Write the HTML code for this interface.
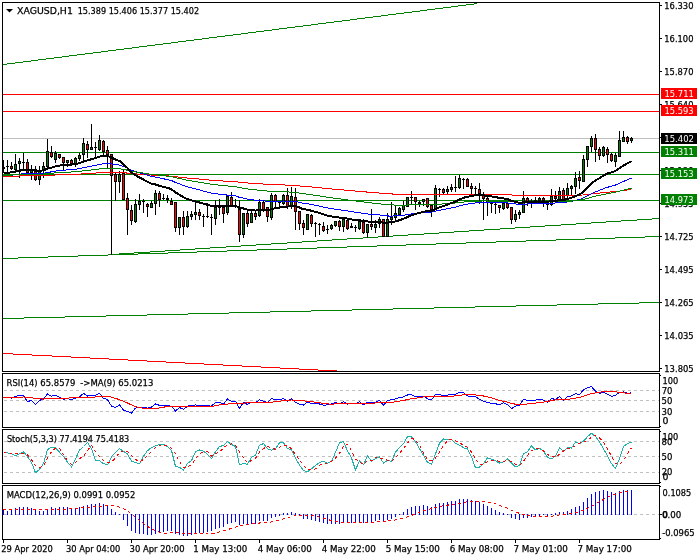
<!DOCTYPE html>
<html><head><meta charset="utf-8"><style>
html,body{margin:0;padding:0;background:#fff;overflow:hidden;}
svg{display:block;}
text{font-family:"DejaVu Sans","Liberation Sans",sans-serif;}
</style></head><body>
<svg width="700" height="560" viewBox="0 0 700 560" shape-rendering="crispEdges">
<rect width="700" height="560" fill="#fff"/>
<rect x="2" y="2" width="658" height="1" fill="#000"/>
<rect x="2" y="2" width="1" height="370" fill="#000"/>
<rect x="659" y="2" width="1" height="370" fill="#000"/>
<rect x="2" y="371" width="658" height="1" fill="#000"/>
<rect x="3" y="94" width="656" height="1" fill="#ff0000"/>
<rect x="3" y="111" width="656" height="1" fill="#ff0000"/>
<rect x="3" y="138" width="656" height="1" fill="#c0c0c0"/>
<rect x="3" y="152" width="656" height="1" fill="#008000"/>
<rect x="3" y="174" width="656" height="1" fill="#008000"/>
<rect x="3" y="200" width="656" height="1" fill="#008000"/>
<rect x="3" y="64" width="4" height="1" fill="#008000"/>
<rect x="7" y="63" width="8" height="1" fill="#008000"/>
<rect x="15" y="62" width="8" height="1" fill="#008000"/>
<rect x="23" y="61" width="8" height="1" fill="#008000"/>
<rect x="31" y="60" width="7" height="1" fill="#008000"/>
<rect x="38" y="59" width="8" height="1" fill="#008000"/>
<rect x="46" y="58" width="8" height="1" fill="#008000"/>
<rect x="54" y="57" width="8" height="1" fill="#008000"/>
<rect x="62" y="56" width="7" height="1" fill="#008000"/>
<rect x="69" y="55" width="8" height="1" fill="#008000"/>
<rect x="77" y="54" width="8" height="1" fill="#008000"/>
<rect x="85" y="53" width="8" height="1" fill="#008000"/>
<rect x="93" y="52" width="8" height="1" fill="#008000"/>
<rect x="101" y="51" width="7" height="1" fill="#008000"/>
<rect x="108" y="50" width="8" height="1" fill="#008000"/>
<rect x="116" y="49" width="8" height="1" fill="#008000"/>
<rect x="124" y="48" width="8" height="1" fill="#008000"/>
<rect x="132" y="47" width="7" height="1" fill="#008000"/>
<rect x="139" y="46" width="8" height="1" fill="#008000"/>
<rect x="147" y="45" width="8" height="1" fill="#008000"/>
<rect x="155" y="44" width="8" height="1" fill="#008000"/>
<rect x="163" y="43" width="8" height="1" fill="#008000"/>
<rect x="171" y="42" width="7" height="1" fill="#008000"/>
<rect x="178" y="41" width="8" height="1" fill="#008000"/>
<rect x="186" y="40" width="8" height="1" fill="#008000"/>
<rect x="194" y="39" width="8" height="1" fill="#008000"/>
<rect x="202" y="38" width="7" height="1" fill="#008000"/>
<rect x="209" y="37" width="8" height="1" fill="#008000"/>
<rect x="217" y="36" width="8" height="1" fill="#008000"/>
<rect x="225" y="35" width="8" height="1" fill="#008000"/>
<rect x="233" y="34" width="8" height="1" fill="#008000"/>
<rect x="241" y="33" width="7" height="1" fill="#008000"/>
<rect x="248" y="32" width="8" height="1" fill="#008000"/>
<rect x="256" y="31" width="8" height="1" fill="#008000"/>
<rect x="264" y="30" width="8" height="1" fill="#008000"/>
<rect x="272" y="29" width="7" height="1" fill="#008000"/>
<rect x="279" y="28" width="8" height="1" fill="#008000"/>
<rect x="287" y="27" width="8" height="1" fill="#008000"/>
<rect x="295" y="26" width="8" height="1" fill="#008000"/>
<rect x="303" y="25" width="8" height="1" fill="#008000"/>
<rect x="311" y="24" width="7" height="1" fill="#008000"/>
<rect x="318" y="23" width="8" height="1" fill="#008000"/>
<rect x="326" y="22" width="8" height="1" fill="#008000"/>
<rect x="334" y="21" width="8" height="1" fill="#008000"/>
<rect x="342" y="20" width="8" height="1" fill="#008000"/>
<rect x="350" y="19" width="7" height="1" fill="#008000"/>
<rect x="357" y="18" width="8" height="1" fill="#008000"/>
<rect x="365" y="17" width="8" height="1" fill="#008000"/>
<rect x="373" y="16" width="8" height="1" fill="#008000"/>
<rect x="381" y="15" width="7" height="1" fill="#008000"/>
<rect x="388" y="14" width="8" height="1" fill="#008000"/>
<rect x="396" y="13" width="8" height="1" fill="#008000"/>
<rect x="404" y="12" width="8" height="1" fill="#008000"/>
<rect x="412" y="11" width="8" height="1" fill="#008000"/>
<rect x="420" y="10" width="7" height="1" fill="#008000"/>
<rect x="427" y="9" width="8" height="1" fill="#008000"/>
<rect x="435" y="8" width="8" height="1" fill="#008000"/>
<rect x="443" y="7" width="8" height="1" fill="#008000"/>
<rect x="451" y="6" width="7" height="1" fill="#008000"/>
<rect x="458" y="5" width="8" height="1" fill="#008000"/>
<rect x="466" y="4" width="8" height="1" fill="#008000"/>
<rect x="474" y="3" width="3" height="1" fill="#008000"/>
<rect x="3" y="258" width="15" height="1" fill="#008000"/>
<rect x="18" y="257" width="30" height="1" fill="#008000"/>
<rect x="48" y="256" width="30" height="1" fill="#008000"/>
<rect x="78" y="255" width="30" height="1" fill="#008000"/>
<rect x="108" y="254" width="30" height="1" fill="#008000"/>
<rect x="138" y="253" width="30" height="1" fill="#008000"/>
<rect x="168" y="252" width="29" height="1" fill="#008000"/>
<rect x="197" y="251" width="30" height="1" fill="#008000"/>
<rect x="227" y="250" width="30" height="1" fill="#008000"/>
<rect x="257" y="249" width="30" height="1" fill="#008000"/>
<rect x="287" y="248" width="30" height="1" fill="#008000"/>
<rect x="317" y="247" width="30" height="1" fill="#008000"/>
<rect x="347" y="246" width="30" height="1" fill="#008000"/>
<rect x="377" y="245" width="29" height="1" fill="#008000"/>
<rect x="406" y="244" width="30" height="1" fill="#008000"/>
<rect x="436" y="243" width="30" height="1" fill="#008000"/>
<rect x="466" y="242" width="30" height="1" fill="#008000"/>
<rect x="496" y="241" width="30" height="1" fill="#008000"/>
<rect x="526" y="240" width="30" height="1" fill="#008000"/>
<rect x="556" y="239" width="29" height="1" fill="#008000"/>
<rect x="585" y="238" width="30" height="1" fill="#008000"/>
<rect x="615" y="237" width="30" height="1" fill="#008000"/>
<rect x="645" y="236" width="14" height="1" fill="#008000"/>
<rect x="111" y="254" width="8" height="1" fill="#008000"/>
<rect x="119" y="253" width="15" height="1" fill="#008000"/>
<rect x="134" y="252" width="16" height="1" fill="#008000"/>
<rect x="150" y="251" width="15" height="1" fill="#008000"/>
<rect x="165" y="250" width="15" height="1" fill="#008000"/>
<rect x="180" y="249" width="15" height="1" fill="#008000"/>
<rect x="195" y="248" width="15" height="1" fill="#008000"/>
<rect x="210" y="247" width="16" height="1" fill="#008000"/>
<rect x="226" y="246" width="15" height="1" fill="#008000"/>
<rect x="241" y="245" width="15" height="1" fill="#008000"/>
<rect x="256" y="244" width="15" height="1" fill="#008000"/>
<rect x="271" y="243" width="16" height="1" fill="#008000"/>
<rect x="287" y="242" width="15" height="1" fill="#008000"/>
<rect x="302" y="241" width="15" height="1" fill="#008000"/>
<rect x="317" y="240" width="15" height="1" fill="#008000"/>
<rect x="332" y="239" width="15" height="1" fill="#008000"/>
<rect x="347" y="238" width="16" height="1" fill="#008000"/>
<rect x="363" y="237" width="15" height="1" fill="#008000"/>
<rect x="378" y="236" width="15" height="1" fill="#008000"/>
<rect x="393" y="235" width="15" height="1" fill="#008000"/>
<rect x="408" y="234" width="16" height="1" fill="#008000"/>
<rect x="424" y="233" width="15" height="1" fill="#008000"/>
<rect x="439" y="232" width="15" height="1" fill="#008000"/>
<rect x="454" y="231" width="15" height="1" fill="#008000"/>
<rect x="469" y="230" width="15" height="1" fill="#008000"/>
<rect x="484" y="229" width="16" height="1" fill="#008000"/>
<rect x="500" y="228" width="15" height="1" fill="#008000"/>
<rect x="515" y="227" width="15" height="1" fill="#008000"/>
<rect x="530" y="226" width="15" height="1" fill="#008000"/>
<rect x="545" y="225" width="16" height="1" fill="#008000"/>
<rect x="561" y="224" width="15" height="1" fill="#008000"/>
<rect x="576" y="223" width="15" height="1" fill="#008000"/>
<rect x="591" y="222" width="15" height="1" fill="#008000"/>
<rect x="606" y="221" width="15" height="1" fill="#008000"/>
<rect x="621" y="220" width="16" height="1" fill="#008000"/>
<rect x="637" y="219" width="15" height="1" fill="#008000"/>
<rect x="652" y="218" width="7" height="1" fill="#008000"/>
<rect x="3" y="318" width="21" height="1" fill="#008000"/>
<rect x="24" y="317" width="41" height="1" fill="#008000"/>
<rect x="65" y="316" width="41" height="1" fill="#008000"/>
<rect x="106" y="315" width="41" height="1" fill="#008000"/>
<rect x="147" y="314" width="41" height="1" fill="#008000"/>
<rect x="188" y="313" width="41" height="1" fill="#008000"/>
<rect x="229" y="312" width="41" height="1" fill="#008000"/>
<rect x="270" y="311" width="41" height="1" fill="#008000"/>
<rect x="311" y="310" width="41" height="1" fill="#008000"/>
<rect x="352" y="309" width="41" height="1" fill="#008000"/>
<rect x="393" y="308" width="41" height="1" fill="#008000"/>
<rect x="434" y="307" width="41" height="1" fill="#008000"/>
<rect x="475" y="306" width="41" height="1" fill="#008000"/>
<rect x="516" y="305" width="41" height="1" fill="#008000"/>
<rect x="557" y="304" width="41" height="1" fill="#008000"/>
<rect x="598" y="303" width="41" height="1" fill="#008000"/>
<rect x="639" y="302" width="20" height="1" fill="#008000"/>
<rect x="3" y="353" width="10" height="1" fill="#ff0000"/>
<rect x="13" y="354" width="19" height="1" fill="#ff0000"/>
<rect x="32" y="355" width="20" height="1" fill="#ff0000"/>
<rect x="52" y="356" width="19" height="1" fill="#ff0000"/>
<rect x="71" y="357" width="19" height="1" fill="#ff0000"/>
<rect x="90" y="358" width="19" height="1" fill="#ff0000"/>
<rect x="109" y="359" width="19" height="1" fill="#ff0000"/>
<rect x="128" y="360" width="19" height="1" fill="#ff0000"/>
<rect x="147" y="361" width="19" height="1" fill="#ff0000"/>
<rect x="166" y="362" width="19" height="1" fill="#ff0000"/>
<rect x="185" y="363" width="19" height="1" fill="#ff0000"/>
<rect x="204" y="364" width="19" height="1" fill="#ff0000"/>
<rect x="223" y="365" width="19" height="1" fill="#ff0000"/>
<rect x="242" y="366" width="19" height="1" fill="#ff0000"/>
<rect x="261" y="367" width="19" height="1" fill="#ff0000"/>
<rect x="280" y="368" width="19" height="1" fill="#ff0000"/>
<rect x="299" y="369" width="19" height="1" fill="#ff0000"/>
<rect x="318" y="370" width="19" height="1" fill="#ff0000"/>
<rect x="3" y="160" width="1" height="12" fill="#000"/>
<rect x="2" y="167" width="3" height="2" fill="#000"/>
<rect x="7" y="160" width="1" height="12" fill="#000"/>
<rect x="6" y="166" width="3" height="1" fill="#000"/>
<rect x="11" y="162" width="1" height="8" fill="#000"/>
<rect x="10" y="166" width="3" height="3" fill="#000"/>
<rect x="11" y="167" width="1" height="1" fill="#ff0000"/>
<rect x="15" y="154" width="1" height="19" fill="#000"/>
<rect x="14" y="164" width="3" height="6" fill="#000"/>
<rect x="15" y="165" width="1" height="4" fill="#008000"/>
<rect x="19" y="158" width="1" height="20" fill="#000"/>
<rect x="18" y="161" width="3" height="3" fill="#000"/>
<rect x="19" y="162" width="1" height="1" fill="#008000"/>
<rect x="23" y="153" width="1" height="17" fill="#000"/>
<rect x="22" y="162" width="3" height="1" fill="#000"/>
<rect x="27" y="159" width="1" height="14" fill="#000"/>
<rect x="26" y="162" width="3" height="11" fill="#000"/>
<rect x="27" y="163" width="1" height="9" fill="#ff0000"/>
<rect x="31" y="165" width="1" height="15" fill="#000"/>
<rect x="30" y="170" width="3" height="3" fill="#000"/>
<rect x="31" y="171" width="1" height="1" fill="#008000"/>
<rect x="35" y="166" width="1" height="15" fill="#000"/>
<rect x="34" y="169" width="3" height="11" fill="#000"/>
<rect x="35" y="170" width="1" height="9" fill="#ff0000"/>
<rect x="39" y="166" width="1" height="19" fill="#000"/>
<rect x="38" y="170" width="3" height="10" fill="#000"/>
<rect x="39" y="171" width="1" height="8" fill="#008000"/>
<rect x="43" y="162" width="1" height="16" fill="#000"/>
<rect x="42" y="166" width="3" height="4" fill="#000"/>
<rect x="43" y="167" width="1" height="2" fill="#008000"/>
<rect x="47" y="139" width="1" height="29" fill="#000"/>
<rect x="46" y="151" width="3" height="16" fill="#000"/>
<rect x="47" y="152" width="1" height="14" fill="#008000"/>
<rect x="51" y="146" width="1" height="12" fill="#000"/>
<rect x="50" y="152" width="3" height="5" fill="#000"/>
<rect x="51" y="153" width="1" height="3" fill="#ff0000"/>
<rect x="55" y="151" width="1" height="12" fill="#000"/>
<rect x="54" y="153" width="3" height="7" fill="#000"/>
<rect x="55" y="154" width="1" height="5" fill="#008000"/>
<rect x="59" y="154" width="1" height="5" fill="#000"/>
<rect x="58" y="154" width="3" height="4" fill="#000"/>
<rect x="59" y="155" width="1" height="2" fill="#ff0000"/>
<rect x="63" y="157" width="1" height="13" fill="#000"/>
<rect x="62" y="157" width="3" height="6" fill="#000"/>
<rect x="63" y="158" width="1" height="4" fill="#ff0000"/>
<rect x="67" y="160" width="1" height="7" fill="#000"/>
<rect x="66" y="160" width="3" height="3" fill="#000"/>
<rect x="67" y="161" width="1" height="1" fill="#008000"/>
<rect x="71" y="159" width="1" height="5" fill="#000"/>
<rect x="70" y="160" width="3" height="4" fill="#000"/>
<rect x="71" y="161" width="1" height="2" fill="#ff0000"/>
<rect x="75" y="157" width="1" height="10" fill="#000"/>
<rect x="74" y="158" width="3" height="6" fill="#000"/>
<rect x="75" y="159" width="1" height="4" fill="#008000"/>
<rect x="79" y="153" width="1" height="8" fill="#000"/>
<rect x="78" y="155" width="3" height="4" fill="#000"/>
<rect x="79" y="156" width="1" height="2" fill="#008000"/>
<rect x="83" y="138" width="1" height="23" fill="#000"/>
<rect x="82" y="143" width="3" height="12" fill="#000"/>
<rect x="83" y="144" width="1" height="10" fill="#008000"/>
<rect x="87" y="141" width="1" height="17" fill="#000"/>
<rect x="86" y="144" width="3" height="6" fill="#000"/>
<rect x="87" y="145" width="1" height="4" fill="#ff0000"/>
<rect x="91" y="124" width="1" height="26" fill="#000"/>
<rect x="90" y="147" width="3" height="3" fill="#000"/>
<rect x="91" y="148" width="1" height="1" fill="#008000"/>
<rect x="95" y="142" width="1" height="16" fill="#000"/>
<rect x="94" y="147" width="3" height="1" fill="#000"/>
<rect x="99" y="135" width="1" height="16" fill="#000"/>
<rect x="98" y="140" width="3" height="10" fill="#000"/>
<rect x="99" y="141" width="1" height="8" fill="#008000"/>
<rect x="103" y="140" width="1" height="16" fill="#000"/>
<rect x="102" y="141" width="3" height="11" fill="#000"/>
<rect x="103" y="142" width="1" height="9" fill="#ff0000"/>
<rect x="107" y="146" width="1" height="22" fill="#000"/>
<rect x="106" y="150" width="3" height="5" fill="#000"/>
<rect x="107" y="151" width="1" height="3" fill="#ff0000"/>
<rect x="111" y="154" width="1" height="101" fill="#000"/>
<rect x="110" y="154" width="3" height="22" fill="#000"/>
<rect x="111" y="155" width="1" height="20" fill="#ff0000"/>
<rect x="115" y="173" width="1" height="28" fill="#000"/>
<rect x="114" y="174" width="3" height="8" fill="#000"/>
<rect x="115" y="175" width="1" height="6" fill="#ff0000"/>
<rect x="119" y="171" width="1" height="22" fill="#000"/>
<rect x="118" y="174" width="3" height="8" fill="#000"/>
<rect x="119" y="175" width="1" height="6" fill="#008000"/>
<rect x="123" y="170" width="1" height="30" fill="#000"/>
<rect x="122" y="173" width="3" height="27" fill="#000"/>
<rect x="123" y="174" width="1" height="25" fill="#ff0000"/>
<rect x="127" y="193" width="1" height="42" fill="#000"/>
<rect x="126" y="198" width="3" height="12" fill="#000"/>
<rect x="127" y="199" width="1" height="10" fill="#ff0000"/>
<rect x="131" y="205" width="1" height="20" fill="#000"/>
<rect x="130" y="210" width="3" height="11" fill="#000"/>
<rect x="131" y="211" width="1" height="9" fill="#ff0000"/>
<rect x="135" y="199" width="1" height="24" fill="#000"/>
<rect x="134" y="204" width="3" height="18" fill="#000"/>
<rect x="135" y="205" width="1" height="16" fill="#008000"/>
<rect x="139" y="194" width="1" height="16" fill="#000"/>
<rect x="138" y="201" width="3" height="4" fill="#000"/>
<rect x="139" y="202" width="1" height="2" fill="#008000"/>
<rect x="143" y="199" width="1" height="14" fill="#000"/>
<rect x="142" y="201" width="3" height="1" fill="#000"/>
<rect x="147" y="203" width="1" height="14" fill="#000"/>
<rect x="146" y="204" width="3" height="3" fill="#000"/>
<rect x="147" y="205" width="1" height="1" fill="#ff0000"/>
<rect x="151" y="201" width="1" height="7" fill="#000"/>
<rect x="150" y="203" width="3" height="5" fill="#000"/>
<rect x="151" y="204" width="1" height="3" fill="#008000"/>
<rect x="155" y="190" width="1" height="25" fill="#000"/>
<rect x="154" y="193" width="3" height="11" fill="#000"/>
<rect x="155" y="194" width="1" height="9" fill="#008000"/>
<rect x="159" y="191" width="1" height="16" fill="#000"/>
<rect x="158" y="193" width="3" height="7" fill="#000"/>
<rect x="159" y="194" width="1" height="5" fill="#ff0000"/>
<rect x="163" y="194" width="1" height="6" fill="#000"/>
<rect x="162" y="198" width="3" height="1" fill="#000"/>
<rect x="167" y="195" width="1" height="8" fill="#000"/>
<rect x="166" y="198" width="3" height="2" fill="#000"/>
<rect x="171" y="198" width="1" height="7" fill="#000"/>
<rect x="170" y="201" width="3" height="4" fill="#000"/>
<rect x="171" y="202" width="1" height="2" fill="#ff0000"/>
<rect x="175" y="202" width="1" height="30" fill="#000"/>
<rect x="174" y="202" width="3" height="26" fill="#000"/>
<rect x="175" y="203" width="1" height="24" fill="#ff0000"/>
<rect x="179" y="217" width="1" height="18" fill="#000"/>
<rect x="178" y="217" width="3" height="11" fill="#000"/>
<rect x="179" y="218" width="1" height="9" fill="#008000"/>
<rect x="183" y="211" width="1" height="24" fill="#000"/>
<rect x="182" y="217" width="3" height="10" fill="#000"/>
<rect x="183" y="218" width="1" height="8" fill="#ff0000"/>
<rect x="187" y="211" width="1" height="17" fill="#000"/>
<rect x="186" y="216" width="3" height="11" fill="#000"/>
<rect x="187" y="217" width="1" height="9" fill="#008000"/>
<rect x="191" y="211" width="1" height="9" fill="#000"/>
<rect x="190" y="214" width="3" height="3" fill="#000"/>
<rect x="191" y="215" width="1" height="1" fill="#008000"/>
<rect x="195" y="202" width="1" height="18" fill="#000"/>
<rect x="194" y="212" width="3" height="3" fill="#000"/>
<rect x="195" y="213" width="1" height="1" fill="#008000"/>
<rect x="199" y="209" width="1" height="11" fill="#000"/>
<rect x="198" y="212" width="3" height="4" fill="#000"/>
<rect x="199" y="213" width="1" height="2" fill="#ff0000"/>
<rect x="203" y="214" width="1" height="13" fill="#000"/>
<rect x="202" y="216" width="3" height="1" fill="#000"/>
<rect x="207" y="203" width="1" height="15" fill="#000"/>
<rect x="206" y="216" width="3" height="1" fill="#000"/>
<rect x="211" y="214" width="1" height="21" fill="#000"/>
<rect x="210" y="217" width="3" height="1" fill="#000"/>
<rect x="215" y="200" width="1" height="25" fill="#000"/>
<rect x="214" y="207" width="3" height="12" fill="#000"/>
<rect x="215" y="208" width="1" height="10" fill="#008000"/>
<rect x="219" y="199" width="1" height="16" fill="#000"/>
<rect x="218" y="207" width="3" height="1" fill="#000"/>
<rect x="223" y="205" width="1" height="18" fill="#000"/>
<rect x="222" y="207" width="3" height="7" fill="#000"/>
<rect x="223" y="208" width="1" height="5" fill="#ff0000"/>
<rect x="227" y="196" width="1" height="19" fill="#000"/>
<rect x="226" y="196" width="3" height="17" fill="#000"/>
<rect x="227" y="197" width="1" height="15" fill="#008000"/>
<rect x="231" y="192" width="1" height="15" fill="#000"/>
<rect x="230" y="197" width="3" height="9" fill="#000"/>
<rect x="231" y="198" width="1" height="7" fill="#ff0000"/>
<rect x="235" y="199" width="1" height="9" fill="#000"/>
<rect x="234" y="205" width="3" height="1" fill="#000"/>
<rect x="239" y="200" width="1" height="42" fill="#000"/>
<rect x="238" y="209" width="3" height="26" fill="#000"/>
<rect x="239" y="210" width="1" height="24" fill="#ff0000"/>
<rect x="243" y="213" width="1" height="25" fill="#000"/>
<rect x="242" y="213" width="3" height="22" fill="#000"/>
<rect x="243" y="214" width="1" height="20" fill="#008000"/>
<rect x="247" y="211" width="1" height="16" fill="#000"/>
<rect x="246" y="213" width="3" height="11" fill="#000"/>
<rect x="247" y="214" width="1" height="9" fill="#ff0000"/>
<rect x="251" y="211" width="1" height="12" fill="#000"/>
<rect x="250" y="213" width="3" height="10" fill="#000"/>
<rect x="251" y="214" width="1" height="8" fill="#008000"/>
<rect x="255" y="212" width="1" height="8" fill="#000"/>
<rect x="254" y="213" width="3" height="4" fill="#000"/>
<rect x="255" y="214" width="1" height="2" fill="#ff0000"/>
<rect x="259" y="199" width="1" height="18" fill="#000"/>
<rect x="258" y="202" width="3" height="14" fill="#000"/>
<rect x="259" y="203" width="1" height="12" fill="#008000"/>
<rect x="263" y="201" width="1" height="11" fill="#000"/>
<rect x="262" y="202" width="3" height="8" fill="#000"/>
<rect x="263" y="203" width="1" height="6" fill="#ff0000"/>
<rect x="267" y="207" width="1" height="15" fill="#000"/>
<rect x="266" y="207" width="3" height="10" fill="#000"/>
<rect x="267" y="208" width="1" height="8" fill="#ff0000"/>
<rect x="271" y="193" width="1" height="27" fill="#000"/>
<rect x="270" y="195" width="3" height="23" fill="#000"/>
<rect x="271" y="196" width="1" height="21" fill="#008000"/>
<rect x="275" y="194" width="1" height="13" fill="#000"/>
<rect x="274" y="195" width="3" height="7" fill="#000"/>
<rect x="275" y="196" width="1" height="5" fill="#ff0000"/>
<rect x="279" y="201" width="1" height="7" fill="#000"/>
<rect x="278" y="202" width="3" height="1" fill="#000"/>
<rect x="283" y="194" width="1" height="11" fill="#000"/>
<rect x="282" y="195" width="3" height="9" fill="#000"/>
<rect x="283" y="196" width="1" height="7" fill="#008000"/>
<rect x="287" y="188" width="1" height="21" fill="#000"/>
<rect x="286" y="195" width="3" height="12" fill="#000"/>
<rect x="287" y="196" width="1" height="10" fill="#ff0000"/>
<rect x="291" y="187" width="1" height="22" fill="#000"/>
<rect x="290" y="196" width="3" height="11" fill="#000"/>
<rect x="291" y="197" width="1" height="9" fill="#008000"/>
<rect x="295" y="188" width="1" height="42" fill="#000"/>
<rect x="294" y="197" width="3" height="15" fill="#000"/>
<rect x="295" y="198" width="1" height="13" fill="#ff0000"/>
<rect x="299" y="211" width="1" height="19" fill="#000"/>
<rect x="298" y="211" width="3" height="13" fill="#000"/>
<rect x="299" y="212" width="1" height="11" fill="#ff0000"/>
<rect x="303" y="220" width="1" height="15" fill="#000"/>
<rect x="302" y="223" width="3" height="5" fill="#000"/>
<rect x="303" y="224" width="1" height="3" fill="#ff0000"/>
<rect x="307" y="214" width="1" height="16" fill="#000"/>
<rect x="306" y="214" width="3" height="16" fill="#000"/>
<rect x="307" y="215" width="1" height="14" fill="#008000"/>
<rect x="311" y="214" width="1" height="13" fill="#000"/>
<rect x="310" y="215" width="3" height="9" fill="#000"/>
<rect x="311" y="216" width="1" height="7" fill="#ff0000"/>
<rect x="315" y="222" width="1" height="15" fill="#000"/>
<rect x="314" y="223" width="3" height="1" fill="#000"/>
<rect x="319" y="223" width="1" height="12" fill="#000"/>
<rect x="318" y="224" width="3" height="1" fill="#000"/>
<rect x="323" y="222" width="1" height="10" fill="#000"/>
<rect x="322" y="226" width="3" height="5" fill="#000"/>
<rect x="323" y="227" width="1" height="3" fill="#ff0000"/>
<rect x="327" y="225" width="1" height="9" fill="#000"/>
<rect x="326" y="229" width="3" height="1" fill="#000"/>
<rect x="331" y="224" width="1" height="6" fill="#000"/>
<rect x="330" y="225" width="3" height="4" fill="#000"/>
<rect x="331" y="226" width="1" height="2" fill="#008000"/>
<rect x="335" y="221" width="1" height="6" fill="#000"/>
<rect x="334" y="221" width="3" height="5" fill="#000"/>
<rect x="335" y="222" width="1" height="3" fill="#008000"/>
<rect x="339" y="220" width="1" height="11" fill="#000"/>
<rect x="338" y="221" width="3" height="6" fill="#000"/>
<rect x="339" y="222" width="1" height="4" fill="#ff0000"/>
<rect x="343" y="219" width="1" height="13" fill="#000"/>
<rect x="342" y="219" width="3" height="8" fill="#000"/>
<rect x="343" y="220" width="1" height="6" fill="#008000"/>
<rect x="347" y="219" width="1" height="11" fill="#000"/>
<rect x="346" y="220" width="3" height="9" fill="#000"/>
<rect x="347" y="221" width="1" height="7" fill="#ff0000"/>
<rect x="351" y="223" width="1" height="5" fill="#000"/>
<rect x="350" y="226" width="3" height="2" fill="#000"/>
<rect x="355" y="225" width="1" height="7" fill="#000"/>
<rect x="354" y="227" width="3" height="1" fill="#000"/>
<rect x="359" y="220" width="1" height="10" fill="#000"/>
<rect x="358" y="221" width="3" height="8" fill="#000"/>
<rect x="359" y="222" width="1" height="6" fill="#008000"/>
<rect x="363" y="219" width="1" height="15" fill="#000"/>
<rect x="362" y="222" width="3" height="11" fill="#000"/>
<rect x="363" y="223" width="1" height="9" fill="#ff0000"/>
<rect x="367" y="224" width="1" height="14" fill="#000"/>
<rect x="366" y="224" width="3" height="9" fill="#000"/>
<rect x="367" y="225" width="1" height="7" fill="#008000"/>
<rect x="371" y="209" width="1" height="21" fill="#000"/>
<rect x="370" y="224" width="3" height="3" fill="#000"/>
<rect x="371" y="225" width="1" height="1" fill="#ff0000"/>
<rect x="375" y="220" width="1" height="13" fill="#000"/>
<rect x="374" y="224" width="3" height="4" fill="#000"/>
<rect x="375" y="225" width="1" height="2" fill="#008000"/>
<rect x="379" y="217" width="1" height="11" fill="#000"/>
<rect x="378" y="219" width="3" height="5" fill="#000"/>
<rect x="379" y="220" width="1" height="3" fill="#008000"/>
<rect x="383" y="219" width="1" height="18" fill="#000"/>
<rect x="382" y="219" width="3" height="18" fill="#000"/>
<rect x="383" y="220" width="1" height="16" fill="#ff0000"/>
<rect x="387" y="213" width="1" height="24" fill="#000"/>
<rect x="386" y="219" width="3" height="18" fill="#000"/>
<rect x="387" y="220" width="1" height="16" fill="#008000"/>
<rect x="391" y="202" width="1" height="23" fill="#000"/>
<rect x="390" y="217" width="3" height="3" fill="#000"/>
<rect x="391" y="218" width="1" height="1" fill="#008000"/>
<rect x="395" y="206" width="1" height="15" fill="#000"/>
<rect x="394" y="213" width="3" height="5" fill="#000"/>
<rect x="395" y="214" width="1" height="3" fill="#008000"/>
<rect x="399" y="207" width="1" height="9" fill="#000"/>
<rect x="398" y="208" width="3" height="7" fill="#000"/>
<rect x="399" y="209" width="1" height="5" fill="#008000"/>
<rect x="403" y="201" width="1" height="11" fill="#000"/>
<rect x="402" y="205" width="3" height="5" fill="#000"/>
<rect x="403" y="206" width="1" height="3" fill="#008000"/>
<rect x="407" y="197" width="1" height="10" fill="#000"/>
<rect x="406" y="197" width="3" height="10" fill="#000"/>
<rect x="407" y="198" width="1" height="8" fill="#008000"/>
<rect x="411" y="191" width="1" height="13" fill="#000"/>
<rect x="410" y="197" width="3" height="1" fill="#000"/>
<rect x="415" y="197" width="1" height="13" fill="#000"/>
<rect x="414" y="197" width="3" height="5" fill="#000"/>
<rect x="415" y="198" width="1" height="3" fill="#ff0000"/>
<rect x="419" y="201" width="1" height="6" fill="#000"/>
<rect x="418" y="202" width="3" height="2" fill="#000"/>
<rect x="423" y="199" width="1" height="7" fill="#000"/>
<rect x="422" y="199" width="3" height="3" fill="#000"/>
<rect x="423" y="200" width="1" height="1" fill="#008000"/>
<rect x="427" y="198" width="1" height="10" fill="#000"/>
<rect x="426" y="198" width="3" height="9" fill="#000"/>
<rect x="427" y="199" width="1" height="7" fill="#ff0000"/>
<rect x="431" y="204" width="1" height="13" fill="#000"/>
<rect x="430" y="205" width="3" height="5" fill="#000"/>
<rect x="431" y="206" width="1" height="3" fill="#ff0000"/>
<rect x="435" y="185" width="1" height="25" fill="#000"/>
<rect x="434" y="188" width="3" height="22" fill="#000"/>
<rect x="435" y="189" width="1" height="20" fill="#008000"/>
<rect x="439" y="188" width="1" height="9" fill="#000"/>
<rect x="438" y="189" width="3" height="1" fill="#000"/>
<rect x="443" y="188" width="1" height="6" fill="#000"/>
<rect x="442" y="189" width="3" height="4" fill="#000"/>
<rect x="443" y="190" width="1" height="2" fill="#ff0000"/>
<rect x="447" y="186" width="1" height="8" fill="#000"/>
<rect x="446" y="189" width="3" height="3" fill="#000"/>
<rect x="447" y="190" width="1" height="1" fill="#008000"/>
<rect x="451" y="184" width="1" height="8" fill="#000"/>
<rect x="450" y="187" width="3" height="3" fill="#000"/>
<rect x="451" y="188" width="1" height="1" fill="#008000"/>
<rect x="455" y="176" width="1" height="16" fill="#000"/>
<rect x="454" y="187" width="3" height="1" fill="#000"/>
<rect x="459" y="175" width="1" height="14" fill="#000"/>
<rect x="458" y="178" width="3" height="10" fill="#000"/>
<rect x="459" y="179" width="1" height="8" fill="#008000"/>
<rect x="463" y="178" width="1" height="11" fill="#000"/>
<rect x="462" y="179" width="3" height="1" fill="#000"/>
<rect x="467" y="178" width="1" height="9" fill="#000"/>
<rect x="466" y="179" width="3" height="8" fill="#000"/>
<rect x="467" y="180" width="1" height="6" fill="#ff0000"/>
<rect x="471" y="183" width="1" height="11" fill="#000"/>
<rect x="470" y="186" width="3" height="3" fill="#000"/>
<rect x="471" y="187" width="1" height="1" fill="#ff0000"/>
<rect x="475" y="186" width="1" height="8" fill="#000"/>
<rect x="474" y="188" width="3" height="1" fill="#000"/>
<rect x="479" y="183" width="1" height="21" fill="#000"/>
<rect x="478" y="189" width="3" height="5" fill="#000"/>
<rect x="479" y="190" width="1" height="3" fill="#ff0000"/>
<rect x="483" y="192" width="1" height="28" fill="#000"/>
<rect x="482" y="195" width="3" height="4" fill="#000"/>
<rect x="483" y="196" width="1" height="2" fill="#ff0000"/>
<rect x="487" y="197" width="1" height="19" fill="#000"/>
<rect x="486" y="198" width="3" height="4" fill="#000"/>
<rect x="487" y="199" width="1" height="2" fill="#ff0000"/>
<rect x="491" y="202" width="1" height="11" fill="#000"/>
<rect x="490" y="203" width="3" height="1" fill="#000"/>
<rect x="495" y="203" width="1" height="11" fill="#000"/>
<rect x="494" y="204" width="3" height="1" fill="#000"/>
<rect x="499" y="205" width="1" height="8" fill="#000"/>
<rect x="498" y="205" width="3" height="3" fill="#000"/>
<rect x="499" y="206" width="1" height="1" fill="#ff0000"/>
<rect x="503" y="202" width="1" height="8" fill="#000"/>
<rect x="502" y="203" width="3" height="6" fill="#000"/>
<rect x="503" y="204" width="1" height="4" fill="#008000"/>
<rect x="507" y="202" width="1" height="7" fill="#000"/>
<rect x="506" y="203" width="3" height="5" fill="#000"/>
<rect x="507" y="204" width="1" height="3" fill="#ff0000"/>
<rect x="511" y="207" width="1" height="17" fill="#000"/>
<rect x="510" y="207" width="3" height="13" fill="#000"/>
<rect x="511" y="208" width="1" height="11" fill="#ff0000"/>
<rect x="515" y="210" width="1" height="12" fill="#000"/>
<rect x="514" y="214" width="3" height="6" fill="#000"/>
<rect x="515" y="215" width="1" height="4" fill="#008000"/>
<rect x="519" y="210" width="1" height="9" fill="#000"/>
<rect x="518" y="212" width="3" height="3" fill="#000"/>
<rect x="519" y="213" width="1" height="1" fill="#008000"/>
<rect x="523" y="191" width="1" height="22" fill="#000"/>
<rect x="522" y="198" width="3" height="15" fill="#000"/>
<rect x="523" y="199" width="1" height="13" fill="#008000"/>
<rect x="527" y="197" width="1" height="9" fill="#000"/>
<rect x="526" y="198" width="3" height="4" fill="#000"/>
<rect x="527" y="199" width="1" height="2" fill="#ff0000"/>
<rect x="531" y="199" width="1" height="9" fill="#000"/>
<rect x="530" y="201" width="3" height="3" fill="#000"/>
<rect x="531" y="202" width="1" height="1" fill="#008000"/>
<rect x="535" y="197" width="1" height="5" fill="#000"/>
<rect x="534" y="200" width="3" height="1" fill="#000"/>
<rect x="539" y="197" width="1" height="5" fill="#000"/>
<rect x="538" y="198" width="3" height="3" fill="#000"/>
<rect x="539" y="199" width="1" height="1" fill="#008000"/>
<rect x="543" y="197" width="1" height="10" fill="#000"/>
<rect x="542" y="198" width="3" height="3" fill="#000"/>
<rect x="543" y="199" width="1" height="1" fill="#ff0000"/>
<rect x="547" y="202" width="1" height="8" fill="#000"/>
<rect x="546" y="204" width="3" height="1" fill="#000"/>
<rect x="551" y="189" width="1" height="17" fill="#000"/>
<rect x="550" y="196" width="3" height="9" fill="#000"/>
<rect x="551" y="197" width="1" height="7" fill="#008000"/>
<rect x="555" y="191" width="1" height="10" fill="#000"/>
<rect x="554" y="196" width="3" height="3" fill="#000"/>
<rect x="555" y="197" width="1" height="1" fill="#ff0000"/>
<rect x="559" y="187" width="1" height="14" fill="#000"/>
<rect x="558" y="191" width="3" height="9" fill="#000"/>
<rect x="559" y="192" width="1" height="7" fill="#008000"/>
<rect x="563" y="188" width="1" height="13" fill="#000"/>
<rect x="562" y="190" width="3" height="10" fill="#000"/>
<rect x="563" y="191" width="1" height="8" fill="#ff0000"/>
<rect x="567" y="183" width="1" height="15" fill="#000"/>
<rect x="566" y="188" width="3" height="8" fill="#000"/>
<rect x="567" y="189" width="1" height="6" fill="#008000"/>
<rect x="571" y="185" width="1" height="11" fill="#000"/>
<rect x="570" y="186" width="3" height="3" fill="#000"/>
<rect x="571" y="187" width="1" height="1" fill="#008000"/>
<rect x="575" y="172" width="1" height="22" fill="#000"/>
<rect x="574" y="178" width="3" height="9" fill="#000"/>
<rect x="575" y="179" width="1" height="7" fill="#008000"/>
<rect x="579" y="171" width="1" height="18" fill="#000"/>
<rect x="578" y="177" width="3" height="4" fill="#000"/>
<rect x="579" y="178" width="1" height="2" fill="#ff0000"/>
<rect x="583" y="155" width="1" height="27" fill="#000"/>
<rect x="582" y="159" width="3" height="23" fill="#000"/>
<rect x="583" y="160" width="1" height="21" fill="#008000"/>
<rect x="587" y="146" width="1" height="21" fill="#000"/>
<rect x="586" y="146" width="3" height="14" fill="#000"/>
<rect x="587" y="147" width="1" height="12" fill="#008000"/>
<rect x="591" y="136" width="1" height="16" fill="#000"/>
<rect x="590" y="138" width="3" height="9" fill="#000"/>
<rect x="591" y="139" width="1" height="7" fill="#008000"/>
<rect x="595" y="134" width="1" height="28" fill="#000"/>
<rect x="594" y="138" width="3" height="12" fill="#000"/>
<rect x="595" y="139" width="1" height="10" fill="#ff0000"/>
<rect x="599" y="147" width="1" height="13" fill="#000"/>
<rect x="598" y="149" width="3" height="7" fill="#000"/>
<rect x="599" y="150" width="1" height="5" fill="#ff0000"/>
<rect x="603" y="146" width="1" height="11" fill="#000"/>
<rect x="602" y="147" width="3" height="9" fill="#000"/>
<rect x="603" y="148" width="1" height="7" fill="#008000"/>
<rect x="607" y="147" width="1" height="16" fill="#000"/>
<rect x="606" y="149" width="3" height="6" fill="#000"/>
<rect x="607" y="150" width="1" height="4" fill="#ff0000"/>
<rect x="611" y="153" width="1" height="9" fill="#000"/>
<rect x="610" y="154" width="3" height="7" fill="#000"/>
<rect x="611" y="155" width="1" height="5" fill="#ff0000"/>
<rect x="615" y="153" width="1" height="14" fill="#000"/>
<rect x="614" y="155" width="3" height="7" fill="#000"/>
<rect x="615" y="156" width="1" height="5" fill="#008000"/>
<rect x="619" y="131" width="1" height="26" fill="#000"/>
<rect x="618" y="140" width="3" height="17" fill="#000"/>
<rect x="619" y="141" width="1" height="15" fill="#008000"/>
<rect x="623" y="131" width="1" height="11" fill="#000"/>
<rect x="622" y="137" width="3" height="5" fill="#000"/>
<rect x="623" y="138" width="1" height="3" fill="#008000"/>
<rect x="627" y="136" width="1" height="8" fill="#000"/>
<rect x="626" y="137" width="3" height="5" fill="#000"/>
<rect x="627" y="138" width="1" height="3" fill="#ff0000"/>
<rect x="631" y="137" width="1" height="6" fill="#000"/>
<rect x="630" y="138" width="3" height="3" fill="#000"/>
<rect x="631" y="139" width="1" height="1" fill="#008000"/>
<polyline points="3.50,176.42 7.50,176.32 11.50,176.24 15.50,176.13 19.50,175.98 23.50,175.84 27.50,175.81 31.50,175.76 35.50,175.80 39.50,175.74 43.50,175.65 47.50,175.41 51.50,175.22 55.50,175.00 59.50,174.83 63.50,174.70 67.50,174.56 71.50,174.45 75.50,174.29 79.50,174.10 83.50,173.80 87.50,173.55 91.50,173.29 95.50,173.04 99.50,172.71 103.50,172.50 107.50,172.32 111.50,172.35 115.50,172.44 119.50,172.46 123.50,172.73 127.50,173.10 131.50,173.57 135.50,173.88 139.50,174.16 143.50,174.43 147.50,174.75 151.50,175.04 155.50,175.23 159.50,175.47 163.50,175.70 167.50,175.93 171.50,176.21 175.50,176.73 179.50,177.13 183.50,177.63 187.50,178.02 191.50,178.38 195.50,178.72 199.50,179.09 203.50,179.46 207.50,179.83 211.50,180.21 215.50,180.48 219.50,180.75 223.50,181.08 227.50,181.24 231.50,181.48 235.50,181.72 239.50,182.25 243.50,182.56 247.50,182.97 251.50,183.27 255.50,183.61 259.50,183.79 263.50,184.05 267.50,184.38 271.50,184.49 275.50,184.66 279.50,184.84 283.50,184.94 287.50,185.16 291.50,185.27 295.50,185.53 299.50,185.91 303.50,186.33 307.50,186.61 311.50,186.98 315.50,187.35 319.50,187.72 323.50,188.14 327.50,188.56 331.50,188.93 335.50,189.25 339.50,189.63 343.50,189.92 347.50,190.31 351.50,190.68 355.50,191.05 359.50,191.35 363.50,191.77 367.50,192.09 371.50,192.44 375.50,192.76 379.50,193.03 383.50,193.46 387.50,193.72 391.50,193.96 395.50,194.15 399.50,194.30 403.50,194.41 407.50,194.44 411.50,194.47 415.50,194.54 419.50,194.62 423.50,194.67 427.50,194.79 431.50,194.94 435.50,194.87 439.50,194.82 443.50,194.79 447.50,194.74 451.50,194.67 455.50,194.60 459.50,194.44 463.50,194.29 467.50,194.21 471.50,194.15 475.50,194.10 479.50,194.09 483.50,194.13 487.50,194.21 491.50,194.30 495.50,194.40 499.50,194.53 503.50,194.62 507.50,194.75 511.50,195.00 515.50,195.19 519.50,195.37 523.50,195.40 527.50,195.46 531.50,195.52 535.50,195.57 539.50,195.60 543.50,195.65 547.50,195.74 551.50,195.74 555.50,195.77 559.50,195.73 563.50,195.77 567.50,195.69 571.50,195.60 575.50,195.43 579.50,195.28 583.50,194.92 587.50,194.44 591.50,193.88 595.50,193.44 599.50,193.06 603.50,192.60 607.50,192.22 611.50,191.90 615.50,191.54 619.50,191.03 623.50,190.49 627.50,190.00 631.50,189.49" fill="none" stroke="#ff0000" stroke-width="1" />
<polyline points="3.50,175.80 7.50,175.42 11.50,175.15 15.50,174.72 19.50,174.19 23.50,173.72 27.50,173.68 31.50,173.55 35.50,173.79 39.50,173.66 43.50,173.37 47.50,172.49 51.50,171.85 55.50,171.12 59.50,170.58 63.50,170.25 67.50,169.86 71.50,169.61 75.50,169.16 79.50,168.62 83.50,167.61 87.50,166.89 91.50,166.11 95.50,165.37 99.50,164.37 103.50,163.86 107.50,163.48 111.50,163.96 115.50,164.67 119.50,165.06 123.50,166.44 127.50,168.16 131.50,170.25 135.50,171.62 139.50,172.82 143.50,173.97 147.50,175.27 151.50,176.40 155.50,177.08 159.50,177.98 163.50,178.80 167.50,179.59 171.50,180.58 175.50,182.46 179.50,183.86 183.50,185.57 187.50,186.80 191.50,187.91 195.50,188.90 199.50,189.96 203.50,191.02 207.50,192.04 211.50,193.06 215.50,193.64 219.50,194.19 223.50,194.96 227.50,195.02 231.50,195.44 235.50,195.85 239.50,197.39 243.50,198.04 247.50,199.05 251.50,199.63 255.50,200.31 259.50,200.40 263.50,200.76 267.50,201.39 271.50,201.15 275.50,201.17 279.50,201.22 283.50,200.99 287.50,201.21 291.50,201.02 295.50,201.44 299.50,202.32 303.50,203.33 307.50,203.78 311.50,204.57 315.50,205.32 319.50,206.09 323.50,207.07 327.50,207.97 331.50,208.67 335.50,209.18 339.50,209.87 343.50,210.26 347.50,210.99 351.50,211.65 355.50,212.28 359.50,212.65 363.50,213.44 367.50,213.89 371.50,214.39 375.50,214.80 379.50,214.98 383.50,215.84 387.50,215.99 391.50,216.05 395.50,215.95 399.50,215.65 403.50,215.25 407.50,214.54 411.50,213.85 415.50,213.36 419.50,212.93 423.50,212.39 427.50,212.15 431.50,212.05 435.50,211.10 439.50,210.24 443.50,209.53 447.50,208.73 451.50,207.88 455.50,207.07 459.50,205.92 463.50,204.87 467.50,204.13 471.50,203.51 475.50,202.91 479.50,202.53 483.50,202.37 487.50,202.33 491.50,202.38 495.50,202.47 499.50,202.67 503.50,202.70 507.50,202.89 511.50,203.56 515.50,203.99 519.50,204.33 523.50,204.10 527.50,204.00 531.50,203.90 535.50,203.76 539.50,203.55 543.50,203.43 547.50,203.47 551.50,203.19 555.50,203.00 559.50,202.54 563.50,202.42 567.50,201.87 571.50,201.25 575.50,200.34 579.50,199.55 583.50,197.95 587.50,195.89 591.50,193.59 595.50,191.83 599.50,190.38 603.50,188.66 607.50,187.29 611.50,186.22 615.50,184.99 619.50,183.21 623.50,181.39 627.50,179.79 631.50,178.14" fill="none" stroke="#0000ff" stroke-width="1" />
<polyline points="3.50,175.36 7.50,175.18 11.50,175.05 15.50,174.84 19.50,174.57 23.50,174.33 27.50,174.29 31.50,174.22 35.50,174.32 39.50,174.25 43.50,174.09 47.50,173.64 51.50,173.30 55.50,172.90 59.50,172.59 63.50,172.39 67.50,172.15 71.50,171.98 75.50,171.71 79.50,171.39 83.50,170.83 87.50,170.40 91.50,169.94 95.50,169.50 99.50,168.92 103.50,168.57 107.50,168.29 111.50,168.43 115.50,168.69 119.50,168.81 123.50,169.42 127.50,170.22 131.50,171.23 135.50,171.89 139.50,172.49 143.50,173.07 147.50,173.74 151.50,174.33 155.50,174.71 159.50,175.21 163.50,175.68 167.50,176.13 171.50,176.70 175.50,177.72 179.50,178.51 183.50,179.47 187.50,180.21 191.50,180.90 195.50,181.53 199.50,182.21 203.50,182.89 207.50,183.57 211.50,184.25 215.50,184.71 219.50,185.17 223.50,185.73 227.50,185.95 231.50,186.34 235.50,186.72 239.50,187.68 243.50,188.19 247.50,188.90 251.50,189.39 255.50,189.93 259.50,190.19 263.50,190.57 267.50,191.09 271.50,191.18 275.50,191.39 279.50,191.61 283.50,191.69 287.50,191.98 291.50,192.07 295.50,192.46 299.50,193.08 303.50,193.77 307.50,194.18 311.50,194.77 315.50,195.35 319.50,195.93 323.50,196.62 327.50,197.28 331.50,197.84 335.50,198.32 339.50,198.88 343.50,199.29 347.50,199.88 351.50,200.43 355.50,200.97 359.50,201.38 363.50,202.00 367.50,202.45 371.50,202.93 375.50,203.36 379.50,203.69 383.50,204.34 387.50,204.65 391.50,204.90 395.50,205.08 399.50,205.14 403.50,205.15 407.50,205.00 411.50,204.85 415.50,204.78 419.50,204.74 423.50,204.63 427.50,204.67 431.50,204.76 435.50,204.44 439.50,204.14 443.50,203.91 447.50,203.62 451.50,203.30 455.50,202.98 459.50,202.49 463.50,202.03 467.50,201.72 471.50,201.46 475.50,201.20 479.50,201.04 483.50,200.99 487.50,201.00 491.50,201.05 495.50,201.12 499.50,201.25 503.50,201.29 507.50,201.42 511.50,201.78 515.50,202.03 519.50,202.24 523.50,202.17 527.50,202.16 531.50,202.14 535.50,202.11 539.50,202.04 543.50,202.01 547.50,202.06 551.50,201.95 555.50,201.88 559.50,201.67 563.50,201.63 567.50,201.36 571.50,201.07 575.50,200.61 579.50,200.21 583.50,199.40 587.50,198.34 591.50,197.14 595.50,196.19 599.50,195.38 603.50,194.42 607.50,193.62 611.50,192.96 615.50,192.21 619.50,191.17 623.50,190.10 627.50,189.13 631.50,188.12" fill="none" stroke="#008000" stroke-width="1" />
<polyline points="3.50,173.39 7.50,172.74 11.50,172.33 15.50,171.61 19.50,170.69 23.50,169.93 27.50,170.11 31.50,170.10 35.50,170.87 39.50,170.80 43.50,170.38 47.50,168.70 51.50,167.59 55.50,166.32 59.50,165.51 63.50,165.21 67.50,164.75 71.50,164.60 75.50,164.03 79.50,163.24 83.50,161.48 87.50,160.40 91.50,159.23 95.50,158.17 99.50,156.59 103.50,156.10 107.50,155.92 111.50,157.58 115.50,159.62 119.50,160.87 123.50,164.18 127.50,168.08 131.50,172.59 135.50,175.33 139.50,177.56 143.50,179.60 147.50,181.89 151.50,183.73 155.50,184.53 159.50,185.79 163.50,186.85 167.50,187.82 171.50,189.23 175.50,192.51 179.50,194.64 183.50,197.37 187.50,198.99 191.50,200.30 195.50,201.31 199.50,202.50 203.50,203.68 207.50,204.75 211.50,205.81 215.50,205.92 219.50,206.01 223.50,206.62 227.50,205.70 231.50,205.63 235.50,205.58 239.50,208.05 243.50,208.48 247.50,209.74 251.50,210.03 255.50,210.55 259.50,209.80 263.50,209.73 267.50,210.28 271.50,208.95 275.50,208.26 279.50,207.71 283.50,206.61 287.50,206.56 291.50,205.64 295.50,206.10 299.50,207.57 303.50,209.26 307.50,209.67 311.50,210.83 315.50,211.89 319.50,212.94 323.50,214.43 327.50,215.69 331.50,216.50 335.50,216.89 339.50,217.69 343.50,217.80 347.50,218.69 351.50,219.41 355.50,220.07 359.50,220.15 363.50,221.18 367.50,221.43 371.50,221.82 375.50,222.01 379.50,221.75 383.50,222.99 387.50,222.64 391.50,222.15 395.50,221.36 399.50,220.20 403.50,218.87 407.50,216.97 411.50,215.24 415.50,214.00 419.50,212.95 423.50,211.74 427.50,211.24 431.50,211.05 435.50,209.04 439.50,207.30 443.50,205.97 447.50,204.49 451.50,202.97 455.50,201.58 459.50,199.53 463.50,197.75 467.50,196.73 471.50,195.97 475.50,195.27 479.50,195.08 483.50,195.33 487.50,195.82 491.50,196.45 495.50,197.10 499.50,197.96 503.50,198.40 507.50,199.15 511.50,200.88 515.50,202.02 519.50,202.89 523.50,202.46 527.50,202.33 531.50,202.22 535.50,202.02 539.50,201.67 543.50,201.53 547.50,201.74 551.50,201.24 555.50,200.96 559.50,200.10 563.50,200.00 567.50,198.96 571.50,197.83 575.50,196.11 579.50,194.71 583.50,191.60 587.50,187.64 591.50,183.32 595.50,180.34 599.50,178.13 603.50,175.42 607.50,173.56 611.50,172.38 615.50,170.87 619.50,168.19 623.50,165.47 627.50,163.35 631.50,161.14" fill="none" stroke="#000" stroke-width="2" />
<rect x="2" y="373" width="658" height="1" fill="#000"/>
<rect x="2" y="427" width="658" height="1" fill="#000"/>
<rect x="2" y="373" width="1" height="55" fill="#000"/>
<rect x="659" y="373" width="1" height="55" fill="#000"/>
<rect x="2" y="429" width="658" height="1" fill="#000"/>
<rect x="2" y="483" width="658" height="1" fill="#000"/>
<rect x="2" y="429" width="1" height="55" fill="#000"/>
<rect x="659" y="429" width="1" height="55" fill="#000"/>
<rect x="2" y="485" width="658" height="1" fill="#000"/>
<rect x="2" y="539" width="658" height="1" fill="#000"/>
<rect x="2" y="485" width="1" height="55" fill="#000"/>
<rect x="659" y="485" width="1" height="55" fill="#000"/>
<rect x="4" y="390" width="3" height="1" fill="#c0c0c0"/>
<rect x="10" y="390" width="3" height="1" fill="#c0c0c0"/>
<rect x="16" y="390" width="3" height="1" fill="#c0c0c0"/>
<rect x="22" y="390" width="3" height="1" fill="#c0c0c0"/>
<rect x="28" y="390" width="3" height="1" fill="#c0c0c0"/>
<rect x="34" y="390" width="3" height="1" fill="#c0c0c0"/>
<rect x="40" y="390" width="3" height="1" fill="#c0c0c0"/>
<rect x="46" y="390" width="3" height="1" fill="#c0c0c0"/>
<rect x="52" y="390" width="3" height="1" fill="#c0c0c0"/>
<rect x="58" y="390" width="3" height="1" fill="#c0c0c0"/>
<rect x="64" y="390" width="3" height="1" fill="#c0c0c0"/>
<rect x="70" y="390" width="3" height="1" fill="#c0c0c0"/>
<rect x="76" y="390" width="3" height="1" fill="#c0c0c0"/>
<rect x="82" y="390" width="3" height="1" fill="#c0c0c0"/>
<rect x="88" y="390" width="3" height="1" fill="#c0c0c0"/>
<rect x="94" y="390" width="3" height="1" fill="#c0c0c0"/>
<rect x="100" y="390" width="3" height="1" fill="#c0c0c0"/>
<rect x="106" y="390" width="3" height="1" fill="#c0c0c0"/>
<rect x="112" y="390" width="3" height="1" fill="#c0c0c0"/>
<rect x="118" y="390" width="3" height="1" fill="#c0c0c0"/>
<rect x="124" y="390" width="3" height="1" fill="#c0c0c0"/>
<rect x="130" y="390" width="3" height="1" fill="#c0c0c0"/>
<rect x="136" y="390" width="3" height="1" fill="#c0c0c0"/>
<rect x="142" y="390" width="3" height="1" fill="#c0c0c0"/>
<rect x="148" y="390" width="3" height="1" fill="#c0c0c0"/>
<rect x="154" y="390" width="3" height="1" fill="#c0c0c0"/>
<rect x="160" y="390" width="3" height="1" fill="#c0c0c0"/>
<rect x="166" y="390" width="3" height="1" fill="#c0c0c0"/>
<rect x="172" y="390" width="3" height="1" fill="#c0c0c0"/>
<rect x="178" y="390" width="3" height="1" fill="#c0c0c0"/>
<rect x="184" y="390" width="3" height="1" fill="#c0c0c0"/>
<rect x="190" y="390" width="3" height="1" fill="#c0c0c0"/>
<rect x="196" y="390" width="3" height="1" fill="#c0c0c0"/>
<rect x="202" y="390" width="3" height="1" fill="#c0c0c0"/>
<rect x="208" y="390" width="3" height="1" fill="#c0c0c0"/>
<rect x="214" y="390" width="3" height="1" fill="#c0c0c0"/>
<rect x="220" y="390" width="3" height="1" fill="#c0c0c0"/>
<rect x="226" y="390" width="3" height="1" fill="#c0c0c0"/>
<rect x="232" y="390" width="3" height="1" fill="#c0c0c0"/>
<rect x="238" y="390" width="3" height="1" fill="#c0c0c0"/>
<rect x="244" y="390" width="3" height="1" fill="#c0c0c0"/>
<rect x="250" y="390" width="3" height="1" fill="#c0c0c0"/>
<rect x="256" y="390" width="3" height="1" fill="#c0c0c0"/>
<rect x="262" y="390" width="3" height="1" fill="#c0c0c0"/>
<rect x="268" y="390" width="3" height="1" fill="#c0c0c0"/>
<rect x="274" y="390" width="3" height="1" fill="#c0c0c0"/>
<rect x="280" y="390" width="3" height="1" fill="#c0c0c0"/>
<rect x="286" y="390" width="3" height="1" fill="#c0c0c0"/>
<rect x="292" y="390" width="3" height="1" fill="#c0c0c0"/>
<rect x="298" y="390" width="3" height="1" fill="#c0c0c0"/>
<rect x="304" y="390" width="3" height="1" fill="#c0c0c0"/>
<rect x="310" y="390" width="3" height="1" fill="#c0c0c0"/>
<rect x="316" y="390" width="3" height="1" fill="#c0c0c0"/>
<rect x="322" y="390" width="3" height="1" fill="#c0c0c0"/>
<rect x="328" y="390" width="3" height="1" fill="#c0c0c0"/>
<rect x="334" y="390" width="3" height="1" fill="#c0c0c0"/>
<rect x="340" y="390" width="3" height="1" fill="#c0c0c0"/>
<rect x="346" y="390" width="3" height="1" fill="#c0c0c0"/>
<rect x="352" y="390" width="3" height="1" fill="#c0c0c0"/>
<rect x="358" y="390" width="3" height="1" fill="#c0c0c0"/>
<rect x="364" y="390" width="3" height="1" fill="#c0c0c0"/>
<rect x="370" y="390" width="3" height="1" fill="#c0c0c0"/>
<rect x="376" y="390" width="3" height="1" fill="#c0c0c0"/>
<rect x="382" y="390" width="3" height="1" fill="#c0c0c0"/>
<rect x="388" y="390" width="3" height="1" fill="#c0c0c0"/>
<rect x="394" y="390" width="3" height="1" fill="#c0c0c0"/>
<rect x="400" y="390" width="3" height="1" fill="#c0c0c0"/>
<rect x="406" y="390" width="3" height="1" fill="#c0c0c0"/>
<rect x="412" y="390" width="3" height="1" fill="#c0c0c0"/>
<rect x="418" y="390" width="3" height="1" fill="#c0c0c0"/>
<rect x="424" y="390" width="3" height="1" fill="#c0c0c0"/>
<rect x="430" y="390" width="3" height="1" fill="#c0c0c0"/>
<rect x="436" y="390" width="3" height="1" fill="#c0c0c0"/>
<rect x="442" y="390" width="3" height="1" fill="#c0c0c0"/>
<rect x="448" y="390" width="3" height="1" fill="#c0c0c0"/>
<rect x="454" y="390" width="3" height="1" fill="#c0c0c0"/>
<rect x="460" y="390" width="3" height="1" fill="#c0c0c0"/>
<rect x="466" y="390" width="3" height="1" fill="#c0c0c0"/>
<rect x="472" y="390" width="3" height="1" fill="#c0c0c0"/>
<rect x="478" y="390" width="3" height="1" fill="#c0c0c0"/>
<rect x="484" y="390" width="3" height="1" fill="#c0c0c0"/>
<rect x="490" y="390" width="3" height="1" fill="#c0c0c0"/>
<rect x="496" y="390" width="3" height="1" fill="#c0c0c0"/>
<rect x="502" y="390" width="3" height="1" fill="#c0c0c0"/>
<rect x="508" y="390" width="3" height="1" fill="#c0c0c0"/>
<rect x="514" y="390" width="3" height="1" fill="#c0c0c0"/>
<rect x="520" y="390" width="3" height="1" fill="#c0c0c0"/>
<rect x="526" y="390" width="3" height="1" fill="#c0c0c0"/>
<rect x="532" y="390" width="3" height="1" fill="#c0c0c0"/>
<rect x="538" y="390" width="3" height="1" fill="#c0c0c0"/>
<rect x="544" y="390" width="3" height="1" fill="#c0c0c0"/>
<rect x="550" y="390" width="3" height="1" fill="#c0c0c0"/>
<rect x="556" y="390" width="3" height="1" fill="#c0c0c0"/>
<rect x="562" y="390" width="3" height="1" fill="#c0c0c0"/>
<rect x="568" y="390" width="3" height="1" fill="#c0c0c0"/>
<rect x="574" y="390" width="3" height="1" fill="#c0c0c0"/>
<rect x="580" y="390" width="3" height="1" fill="#c0c0c0"/>
<rect x="586" y="390" width="3" height="1" fill="#c0c0c0"/>
<rect x="592" y="390" width="3" height="1" fill="#c0c0c0"/>
<rect x="598" y="390" width="3" height="1" fill="#c0c0c0"/>
<rect x="604" y="390" width="3" height="1" fill="#c0c0c0"/>
<rect x="610" y="390" width="3" height="1" fill="#c0c0c0"/>
<rect x="616" y="390" width="3" height="1" fill="#c0c0c0"/>
<rect x="622" y="390" width="3" height="1" fill="#c0c0c0"/>
<rect x="628" y="390" width="3" height="1" fill="#c0c0c0"/>
<rect x="634" y="390" width="3" height="1" fill="#c0c0c0"/>
<rect x="640" y="390" width="3" height="1" fill="#c0c0c0"/>
<rect x="646" y="390" width="3" height="1" fill="#c0c0c0"/>
<rect x="652" y="390" width="3" height="1" fill="#c0c0c0"/>
<rect x="658" y="390" width="1" height="1" fill="#c0c0c0"/>
<rect x="4" y="400" width="3" height="1" fill="#c0c0c0"/>
<rect x="10" y="400" width="3" height="1" fill="#c0c0c0"/>
<rect x="16" y="400" width="3" height="1" fill="#c0c0c0"/>
<rect x="22" y="400" width="3" height="1" fill="#c0c0c0"/>
<rect x="28" y="400" width="3" height="1" fill="#c0c0c0"/>
<rect x="34" y="400" width="3" height="1" fill="#c0c0c0"/>
<rect x="40" y="400" width="3" height="1" fill="#c0c0c0"/>
<rect x="46" y="400" width="3" height="1" fill="#c0c0c0"/>
<rect x="52" y="400" width="3" height="1" fill="#c0c0c0"/>
<rect x="58" y="400" width="3" height="1" fill="#c0c0c0"/>
<rect x="64" y="400" width="3" height="1" fill="#c0c0c0"/>
<rect x="70" y="400" width="3" height="1" fill="#c0c0c0"/>
<rect x="76" y="400" width="3" height="1" fill="#c0c0c0"/>
<rect x="82" y="400" width="3" height="1" fill="#c0c0c0"/>
<rect x="88" y="400" width="3" height="1" fill="#c0c0c0"/>
<rect x="94" y="400" width="3" height="1" fill="#c0c0c0"/>
<rect x="100" y="400" width="3" height="1" fill="#c0c0c0"/>
<rect x="106" y="400" width="3" height="1" fill="#c0c0c0"/>
<rect x="112" y="400" width="3" height="1" fill="#c0c0c0"/>
<rect x="118" y="400" width="3" height="1" fill="#c0c0c0"/>
<rect x="124" y="400" width="3" height="1" fill="#c0c0c0"/>
<rect x="130" y="400" width="3" height="1" fill="#c0c0c0"/>
<rect x="136" y="400" width="3" height="1" fill="#c0c0c0"/>
<rect x="142" y="400" width="3" height="1" fill="#c0c0c0"/>
<rect x="148" y="400" width="3" height="1" fill="#c0c0c0"/>
<rect x="154" y="400" width="3" height="1" fill="#c0c0c0"/>
<rect x="160" y="400" width="3" height="1" fill="#c0c0c0"/>
<rect x="166" y="400" width="3" height="1" fill="#c0c0c0"/>
<rect x="172" y="400" width="3" height="1" fill="#c0c0c0"/>
<rect x="178" y="400" width="3" height="1" fill="#c0c0c0"/>
<rect x="184" y="400" width="3" height="1" fill="#c0c0c0"/>
<rect x="190" y="400" width="3" height="1" fill="#c0c0c0"/>
<rect x="196" y="400" width="3" height="1" fill="#c0c0c0"/>
<rect x="202" y="400" width="3" height="1" fill="#c0c0c0"/>
<rect x="208" y="400" width="3" height="1" fill="#c0c0c0"/>
<rect x="214" y="400" width="3" height="1" fill="#c0c0c0"/>
<rect x="220" y="400" width="3" height="1" fill="#c0c0c0"/>
<rect x="226" y="400" width="3" height="1" fill="#c0c0c0"/>
<rect x="232" y="400" width="3" height="1" fill="#c0c0c0"/>
<rect x="238" y="400" width="3" height="1" fill="#c0c0c0"/>
<rect x="244" y="400" width="3" height="1" fill="#c0c0c0"/>
<rect x="250" y="400" width="3" height="1" fill="#c0c0c0"/>
<rect x="256" y="400" width="3" height="1" fill="#c0c0c0"/>
<rect x="262" y="400" width="3" height="1" fill="#c0c0c0"/>
<rect x="268" y="400" width="3" height="1" fill="#c0c0c0"/>
<rect x="274" y="400" width="3" height="1" fill="#c0c0c0"/>
<rect x="280" y="400" width="3" height="1" fill="#c0c0c0"/>
<rect x="286" y="400" width="3" height="1" fill="#c0c0c0"/>
<rect x="292" y="400" width="3" height="1" fill="#c0c0c0"/>
<rect x="298" y="400" width="3" height="1" fill="#c0c0c0"/>
<rect x="304" y="400" width="3" height="1" fill="#c0c0c0"/>
<rect x="310" y="400" width="3" height="1" fill="#c0c0c0"/>
<rect x="316" y="400" width="3" height="1" fill="#c0c0c0"/>
<rect x="322" y="400" width="3" height="1" fill="#c0c0c0"/>
<rect x="328" y="400" width="3" height="1" fill="#c0c0c0"/>
<rect x="334" y="400" width="3" height="1" fill="#c0c0c0"/>
<rect x="340" y="400" width="3" height="1" fill="#c0c0c0"/>
<rect x="346" y="400" width="3" height="1" fill="#c0c0c0"/>
<rect x="352" y="400" width="3" height="1" fill="#c0c0c0"/>
<rect x="358" y="400" width="3" height="1" fill="#c0c0c0"/>
<rect x="364" y="400" width="3" height="1" fill="#c0c0c0"/>
<rect x="370" y="400" width="3" height="1" fill="#c0c0c0"/>
<rect x="376" y="400" width="3" height="1" fill="#c0c0c0"/>
<rect x="382" y="400" width="3" height="1" fill="#c0c0c0"/>
<rect x="388" y="400" width="3" height="1" fill="#c0c0c0"/>
<rect x="394" y="400" width="3" height="1" fill="#c0c0c0"/>
<rect x="400" y="400" width="3" height="1" fill="#c0c0c0"/>
<rect x="406" y="400" width="3" height="1" fill="#c0c0c0"/>
<rect x="412" y="400" width="3" height="1" fill="#c0c0c0"/>
<rect x="418" y="400" width="3" height="1" fill="#c0c0c0"/>
<rect x="424" y="400" width="3" height="1" fill="#c0c0c0"/>
<rect x="430" y="400" width="3" height="1" fill="#c0c0c0"/>
<rect x="436" y="400" width="3" height="1" fill="#c0c0c0"/>
<rect x="442" y="400" width="3" height="1" fill="#c0c0c0"/>
<rect x="448" y="400" width="3" height="1" fill="#c0c0c0"/>
<rect x="454" y="400" width="3" height="1" fill="#c0c0c0"/>
<rect x="460" y="400" width="3" height="1" fill="#c0c0c0"/>
<rect x="466" y="400" width="3" height="1" fill="#c0c0c0"/>
<rect x="472" y="400" width="3" height="1" fill="#c0c0c0"/>
<rect x="478" y="400" width="3" height="1" fill="#c0c0c0"/>
<rect x="484" y="400" width="3" height="1" fill="#c0c0c0"/>
<rect x="490" y="400" width="3" height="1" fill="#c0c0c0"/>
<rect x="496" y="400" width="3" height="1" fill="#c0c0c0"/>
<rect x="502" y="400" width="3" height="1" fill="#c0c0c0"/>
<rect x="508" y="400" width="3" height="1" fill="#c0c0c0"/>
<rect x="514" y="400" width="3" height="1" fill="#c0c0c0"/>
<rect x="520" y="400" width="3" height="1" fill="#c0c0c0"/>
<rect x="526" y="400" width="3" height="1" fill="#c0c0c0"/>
<rect x="532" y="400" width="3" height="1" fill="#c0c0c0"/>
<rect x="538" y="400" width="3" height="1" fill="#c0c0c0"/>
<rect x="544" y="400" width="3" height="1" fill="#c0c0c0"/>
<rect x="550" y="400" width="3" height="1" fill="#c0c0c0"/>
<rect x="556" y="400" width="3" height="1" fill="#c0c0c0"/>
<rect x="562" y="400" width="3" height="1" fill="#c0c0c0"/>
<rect x="568" y="400" width="3" height="1" fill="#c0c0c0"/>
<rect x="574" y="400" width="3" height="1" fill="#c0c0c0"/>
<rect x="580" y="400" width="3" height="1" fill="#c0c0c0"/>
<rect x="586" y="400" width="3" height="1" fill="#c0c0c0"/>
<rect x="592" y="400" width="3" height="1" fill="#c0c0c0"/>
<rect x="598" y="400" width="3" height="1" fill="#c0c0c0"/>
<rect x="604" y="400" width="3" height="1" fill="#c0c0c0"/>
<rect x="610" y="400" width="3" height="1" fill="#c0c0c0"/>
<rect x="616" y="400" width="3" height="1" fill="#c0c0c0"/>
<rect x="622" y="400" width="3" height="1" fill="#c0c0c0"/>
<rect x="628" y="400" width="3" height="1" fill="#c0c0c0"/>
<rect x="634" y="400" width="3" height="1" fill="#c0c0c0"/>
<rect x="640" y="400" width="3" height="1" fill="#c0c0c0"/>
<rect x="646" y="400" width="3" height="1" fill="#c0c0c0"/>
<rect x="652" y="400" width="3" height="1" fill="#c0c0c0"/>
<rect x="658" y="400" width="1" height="1" fill="#c0c0c0"/>
<rect x="4" y="411" width="3" height="1" fill="#c0c0c0"/>
<rect x="10" y="411" width="3" height="1" fill="#c0c0c0"/>
<rect x="16" y="411" width="3" height="1" fill="#c0c0c0"/>
<rect x="22" y="411" width="3" height="1" fill="#c0c0c0"/>
<rect x="28" y="411" width="3" height="1" fill="#c0c0c0"/>
<rect x="34" y="411" width="3" height="1" fill="#c0c0c0"/>
<rect x="40" y="411" width="3" height="1" fill="#c0c0c0"/>
<rect x="46" y="411" width="3" height="1" fill="#c0c0c0"/>
<rect x="52" y="411" width="3" height="1" fill="#c0c0c0"/>
<rect x="58" y="411" width="3" height="1" fill="#c0c0c0"/>
<rect x="64" y="411" width="3" height="1" fill="#c0c0c0"/>
<rect x="70" y="411" width="3" height="1" fill="#c0c0c0"/>
<rect x="76" y="411" width="3" height="1" fill="#c0c0c0"/>
<rect x="82" y="411" width="3" height="1" fill="#c0c0c0"/>
<rect x="88" y="411" width="3" height="1" fill="#c0c0c0"/>
<rect x="94" y="411" width="3" height="1" fill="#c0c0c0"/>
<rect x="100" y="411" width="3" height="1" fill="#c0c0c0"/>
<rect x="106" y="411" width="3" height="1" fill="#c0c0c0"/>
<rect x="112" y="411" width="3" height="1" fill="#c0c0c0"/>
<rect x="118" y="411" width="3" height="1" fill="#c0c0c0"/>
<rect x="124" y="411" width="3" height="1" fill="#c0c0c0"/>
<rect x="130" y="411" width="3" height="1" fill="#c0c0c0"/>
<rect x="136" y="411" width="3" height="1" fill="#c0c0c0"/>
<rect x="142" y="411" width="3" height="1" fill="#c0c0c0"/>
<rect x="148" y="411" width="3" height="1" fill="#c0c0c0"/>
<rect x="154" y="411" width="3" height="1" fill="#c0c0c0"/>
<rect x="160" y="411" width="3" height="1" fill="#c0c0c0"/>
<rect x="166" y="411" width="3" height="1" fill="#c0c0c0"/>
<rect x="172" y="411" width="3" height="1" fill="#c0c0c0"/>
<rect x="178" y="411" width="3" height="1" fill="#c0c0c0"/>
<rect x="184" y="411" width="3" height="1" fill="#c0c0c0"/>
<rect x="190" y="411" width="3" height="1" fill="#c0c0c0"/>
<rect x="196" y="411" width="3" height="1" fill="#c0c0c0"/>
<rect x="202" y="411" width="3" height="1" fill="#c0c0c0"/>
<rect x="208" y="411" width="3" height="1" fill="#c0c0c0"/>
<rect x="214" y="411" width="3" height="1" fill="#c0c0c0"/>
<rect x="220" y="411" width="3" height="1" fill="#c0c0c0"/>
<rect x="226" y="411" width="3" height="1" fill="#c0c0c0"/>
<rect x="232" y="411" width="3" height="1" fill="#c0c0c0"/>
<rect x="238" y="411" width="3" height="1" fill="#c0c0c0"/>
<rect x="244" y="411" width="3" height="1" fill="#c0c0c0"/>
<rect x="250" y="411" width="3" height="1" fill="#c0c0c0"/>
<rect x="256" y="411" width="3" height="1" fill="#c0c0c0"/>
<rect x="262" y="411" width="3" height="1" fill="#c0c0c0"/>
<rect x="268" y="411" width="3" height="1" fill="#c0c0c0"/>
<rect x="274" y="411" width="3" height="1" fill="#c0c0c0"/>
<rect x="280" y="411" width="3" height="1" fill="#c0c0c0"/>
<rect x="286" y="411" width="3" height="1" fill="#c0c0c0"/>
<rect x="292" y="411" width="3" height="1" fill="#c0c0c0"/>
<rect x="298" y="411" width="3" height="1" fill="#c0c0c0"/>
<rect x="304" y="411" width="3" height="1" fill="#c0c0c0"/>
<rect x="310" y="411" width="3" height="1" fill="#c0c0c0"/>
<rect x="316" y="411" width="3" height="1" fill="#c0c0c0"/>
<rect x="322" y="411" width="3" height="1" fill="#c0c0c0"/>
<rect x="328" y="411" width="3" height="1" fill="#c0c0c0"/>
<rect x="334" y="411" width="3" height="1" fill="#c0c0c0"/>
<rect x="340" y="411" width="3" height="1" fill="#c0c0c0"/>
<rect x="346" y="411" width="3" height="1" fill="#c0c0c0"/>
<rect x="352" y="411" width="3" height="1" fill="#c0c0c0"/>
<rect x="358" y="411" width="3" height="1" fill="#c0c0c0"/>
<rect x="364" y="411" width="3" height="1" fill="#c0c0c0"/>
<rect x="370" y="411" width="3" height="1" fill="#c0c0c0"/>
<rect x="376" y="411" width="3" height="1" fill="#c0c0c0"/>
<rect x="382" y="411" width="3" height="1" fill="#c0c0c0"/>
<rect x="388" y="411" width="3" height="1" fill="#c0c0c0"/>
<rect x="394" y="411" width="3" height="1" fill="#c0c0c0"/>
<rect x="400" y="411" width="3" height="1" fill="#c0c0c0"/>
<rect x="406" y="411" width="3" height="1" fill="#c0c0c0"/>
<rect x="412" y="411" width="3" height="1" fill="#c0c0c0"/>
<rect x="418" y="411" width="3" height="1" fill="#c0c0c0"/>
<rect x="424" y="411" width="3" height="1" fill="#c0c0c0"/>
<rect x="430" y="411" width="3" height="1" fill="#c0c0c0"/>
<rect x="436" y="411" width="3" height="1" fill="#c0c0c0"/>
<rect x="442" y="411" width="3" height="1" fill="#c0c0c0"/>
<rect x="448" y="411" width="3" height="1" fill="#c0c0c0"/>
<rect x="454" y="411" width="3" height="1" fill="#c0c0c0"/>
<rect x="460" y="411" width="3" height="1" fill="#c0c0c0"/>
<rect x="466" y="411" width="3" height="1" fill="#c0c0c0"/>
<rect x="472" y="411" width="3" height="1" fill="#c0c0c0"/>
<rect x="478" y="411" width="3" height="1" fill="#c0c0c0"/>
<rect x="484" y="411" width="3" height="1" fill="#c0c0c0"/>
<rect x="490" y="411" width="3" height="1" fill="#c0c0c0"/>
<rect x="496" y="411" width="3" height="1" fill="#c0c0c0"/>
<rect x="502" y="411" width="3" height="1" fill="#c0c0c0"/>
<rect x="508" y="411" width="3" height="1" fill="#c0c0c0"/>
<rect x="514" y="411" width="3" height="1" fill="#c0c0c0"/>
<rect x="520" y="411" width="3" height="1" fill="#c0c0c0"/>
<rect x="526" y="411" width="3" height="1" fill="#c0c0c0"/>
<rect x="532" y="411" width="3" height="1" fill="#c0c0c0"/>
<rect x="538" y="411" width="3" height="1" fill="#c0c0c0"/>
<rect x="544" y="411" width="3" height="1" fill="#c0c0c0"/>
<rect x="550" y="411" width="3" height="1" fill="#c0c0c0"/>
<rect x="556" y="411" width="3" height="1" fill="#c0c0c0"/>
<rect x="562" y="411" width="3" height="1" fill="#c0c0c0"/>
<rect x="568" y="411" width="3" height="1" fill="#c0c0c0"/>
<rect x="574" y="411" width="3" height="1" fill="#c0c0c0"/>
<rect x="580" y="411" width="3" height="1" fill="#c0c0c0"/>
<rect x="586" y="411" width="3" height="1" fill="#c0c0c0"/>
<rect x="592" y="411" width="3" height="1" fill="#c0c0c0"/>
<rect x="598" y="411" width="3" height="1" fill="#c0c0c0"/>
<rect x="604" y="411" width="3" height="1" fill="#c0c0c0"/>
<rect x="610" y="411" width="3" height="1" fill="#c0c0c0"/>
<rect x="616" y="411" width="3" height="1" fill="#c0c0c0"/>
<rect x="622" y="411" width="3" height="1" fill="#c0c0c0"/>
<rect x="628" y="411" width="3" height="1" fill="#c0c0c0"/>
<rect x="634" y="411" width="3" height="1" fill="#c0c0c0"/>
<rect x="640" y="411" width="3" height="1" fill="#c0c0c0"/>
<rect x="646" y="411" width="3" height="1" fill="#c0c0c0"/>
<rect x="652" y="411" width="3" height="1" fill="#c0c0c0"/>
<rect x="658" y="411" width="1" height="1" fill="#c0c0c0"/>
<rect x="4" y="441" width="3" height="1" fill="#c0c0c0"/>
<rect x="10" y="441" width="3" height="1" fill="#c0c0c0"/>
<rect x="16" y="441" width="3" height="1" fill="#c0c0c0"/>
<rect x="22" y="441" width="3" height="1" fill="#c0c0c0"/>
<rect x="28" y="441" width="3" height="1" fill="#c0c0c0"/>
<rect x="34" y="441" width="3" height="1" fill="#c0c0c0"/>
<rect x="40" y="441" width="3" height="1" fill="#c0c0c0"/>
<rect x="46" y="441" width="3" height="1" fill="#c0c0c0"/>
<rect x="52" y="441" width="3" height="1" fill="#c0c0c0"/>
<rect x="58" y="441" width="3" height="1" fill="#c0c0c0"/>
<rect x="64" y="441" width="3" height="1" fill="#c0c0c0"/>
<rect x="70" y="441" width="3" height="1" fill="#c0c0c0"/>
<rect x="76" y="441" width="3" height="1" fill="#c0c0c0"/>
<rect x="82" y="441" width="3" height="1" fill="#c0c0c0"/>
<rect x="88" y="441" width="3" height="1" fill="#c0c0c0"/>
<rect x="94" y="441" width="3" height="1" fill="#c0c0c0"/>
<rect x="100" y="441" width="3" height="1" fill="#c0c0c0"/>
<rect x="106" y="441" width="3" height="1" fill="#c0c0c0"/>
<rect x="112" y="441" width="3" height="1" fill="#c0c0c0"/>
<rect x="118" y="441" width="3" height="1" fill="#c0c0c0"/>
<rect x="124" y="441" width="3" height="1" fill="#c0c0c0"/>
<rect x="130" y="441" width="3" height="1" fill="#c0c0c0"/>
<rect x="136" y="441" width="3" height="1" fill="#c0c0c0"/>
<rect x="142" y="441" width="3" height="1" fill="#c0c0c0"/>
<rect x="148" y="441" width="3" height="1" fill="#c0c0c0"/>
<rect x="154" y="441" width="3" height="1" fill="#c0c0c0"/>
<rect x="160" y="441" width="3" height="1" fill="#c0c0c0"/>
<rect x="166" y="441" width="3" height="1" fill="#c0c0c0"/>
<rect x="172" y="441" width="3" height="1" fill="#c0c0c0"/>
<rect x="178" y="441" width="3" height="1" fill="#c0c0c0"/>
<rect x="184" y="441" width="3" height="1" fill="#c0c0c0"/>
<rect x="190" y="441" width="3" height="1" fill="#c0c0c0"/>
<rect x="196" y="441" width="3" height="1" fill="#c0c0c0"/>
<rect x="202" y="441" width="3" height="1" fill="#c0c0c0"/>
<rect x="208" y="441" width="3" height="1" fill="#c0c0c0"/>
<rect x="214" y="441" width="3" height="1" fill="#c0c0c0"/>
<rect x="220" y="441" width="3" height="1" fill="#c0c0c0"/>
<rect x="226" y="441" width="3" height="1" fill="#c0c0c0"/>
<rect x="232" y="441" width="3" height="1" fill="#c0c0c0"/>
<rect x="238" y="441" width="3" height="1" fill="#c0c0c0"/>
<rect x="244" y="441" width="3" height="1" fill="#c0c0c0"/>
<rect x="250" y="441" width="3" height="1" fill="#c0c0c0"/>
<rect x="256" y="441" width="3" height="1" fill="#c0c0c0"/>
<rect x="262" y="441" width="3" height="1" fill="#c0c0c0"/>
<rect x="268" y="441" width="3" height="1" fill="#c0c0c0"/>
<rect x="274" y="441" width="3" height="1" fill="#c0c0c0"/>
<rect x="280" y="441" width="3" height="1" fill="#c0c0c0"/>
<rect x="286" y="441" width="3" height="1" fill="#c0c0c0"/>
<rect x="292" y="441" width="3" height="1" fill="#c0c0c0"/>
<rect x="298" y="441" width="3" height="1" fill="#c0c0c0"/>
<rect x="304" y="441" width="3" height="1" fill="#c0c0c0"/>
<rect x="310" y="441" width="3" height="1" fill="#c0c0c0"/>
<rect x="316" y="441" width="3" height="1" fill="#c0c0c0"/>
<rect x="322" y="441" width="3" height="1" fill="#c0c0c0"/>
<rect x="328" y="441" width="3" height="1" fill="#c0c0c0"/>
<rect x="334" y="441" width="3" height="1" fill="#c0c0c0"/>
<rect x="340" y="441" width="3" height="1" fill="#c0c0c0"/>
<rect x="346" y="441" width="3" height="1" fill="#c0c0c0"/>
<rect x="352" y="441" width="3" height="1" fill="#c0c0c0"/>
<rect x="358" y="441" width="3" height="1" fill="#c0c0c0"/>
<rect x="364" y="441" width="3" height="1" fill="#c0c0c0"/>
<rect x="370" y="441" width="3" height="1" fill="#c0c0c0"/>
<rect x="376" y="441" width="3" height="1" fill="#c0c0c0"/>
<rect x="382" y="441" width="3" height="1" fill="#c0c0c0"/>
<rect x="388" y="441" width="3" height="1" fill="#c0c0c0"/>
<rect x="394" y="441" width="3" height="1" fill="#c0c0c0"/>
<rect x="400" y="441" width="3" height="1" fill="#c0c0c0"/>
<rect x="406" y="441" width="3" height="1" fill="#c0c0c0"/>
<rect x="412" y="441" width="3" height="1" fill="#c0c0c0"/>
<rect x="418" y="441" width="3" height="1" fill="#c0c0c0"/>
<rect x="424" y="441" width="3" height="1" fill="#c0c0c0"/>
<rect x="430" y="441" width="3" height="1" fill="#c0c0c0"/>
<rect x="436" y="441" width="3" height="1" fill="#c0c0c0"/>
<rect x="442" y="441" width="3" height="1" fill="#c0c0c0"/>
<rect x="448" y="441" width="3" height="1" fill="#c0c0c0"/>
<rect x="454" y="441" width="3" height="1" fill="#c0c0c0"/>
<rect x="460" y="441" width="3" height="1" fill="#c0c0c0"/>
<rect x="466" y="441" width="3" height="1" fill="#c0c0c0"/>
<rect x="472" y="441" width="3" height="1" fill="#c0c0c0"/>
<rect x="478" y="441" width="3" height="1" fill="#c0c0c0"/>
<rect x="484" y="441" width="3" height="1" fill="#c0c0c0"/>
<rect x="490" y="441" width="3" height="1" fill="#c0c0c0"/>
<rect x="496" y="441" width="3" height="1" fill="#c0c0c0"/>
<rect x="502" y="441" width="3" height="1" fill="#c0c0c0"/>
<rect x="508" y="441" width="3" height="1" fill="#c0c0c0"/>
<rect x="514" y="441" width="3" height="1" fill="#c0c0c0"/>
<rect x="520" y="441" width="3" height="1" fill="#c0c0c0"/>
<rect x="526" y="441" width="3" height="1" fill="#c0c0c0"/>
<rect x="532" y="441" width="3" height="1" fill="#c0c0c0"/>
<rect x="538" y="441" width="3" height="1" fill="#c0c0c0"/>
<rect x="544" y="441" width="3" height="1" fill="#c0c0c0"/>
<rect x="550" y="441" width="3" height="1" fill="#c0c0c0"/>
<rect x="556" y="441" width="3" height="1" fill="#c0c0c0"/>
<rect x="562" y="441" width="3" height="1" fill="#c0c0c0"/>
<rect x="568" y="441" width="3" height="1" fill="#c0c0c0"/>
<rect x="574" y="441" width="3" height="1" fill="#c0c0c0"/>
<rect x="580" y="441" width="3" height="1" fill="#c0c0c0"/>
<rect x="586" y="441" width="3" height="1" fill="#c0c0c0"/>
<rect x="592" y="441" width="3" height="1" fill="#c0c0c0"/>
<rect x="598" y="441" width="3" height="1" fill="#c0c0c0"/>
<rect x="604" y="441" width="3" height="1" fill="#c0c0c0"/>
<rect x="610" y="441" width="3" height="1" fill="#c0c0c0"/>
<rect x="616" y="441" width="3" height="1" fill="#c0c0c0"/>
<rect x="622" y="441" width="3" height="1" fill="#c0c0c0"/>
<rect x="628" y="441" width="3" height="1" fill="#c0c0c0"/>
<rect x="634" y="441" width="3" height="1" fill="#c0c0c0"/>
<rect x="640" y="441" width="3" height="1" fill="#c0c0c0"/>
<rect x="646" y="441" width="3" height="1" fill="#c0c0c0"/>
<rect x="652" y="441" width="3" height="1" fill="#c0c0c0"/>
<rect x="658" y="441" width="1" height="1" fill="#c0c0c0"/>
<rect x="4" y="456" width="3" height="1" fill="#c0c0c0"/>
<rect x="10" y="456" width="3" height="1" fill="#c0c0c0"/>
<rect x="16" y="456" width="3" height="1" fill="#c0c0c0"/>
<rect x="22" y="456" width="3" height="1" fill="#c0c0c0"/>
<rect x="28" y="456" width="3" height="1" fill="#c0c0c0"/>
<rect x="34" y="456" width="3" height="1" fill="#c0c0c0"/>
<rect x="40" y="456" width="3" height="1" fill="#c0c0c0"/>
<rect x="46" y="456" width="3" height="1" fill="#c0c0c0"/>
<rect x="52" y="456" width="3" height="1" fill="#c0c0c0"/>
<rect x="58" y="456" width="3" height="1" fill="#c0c0c0"/>
<rect x="64" y="456" width="3" height="1" fill="#c0c0c0"/>
<rect x="70" y="456" width="3" height="1" fill="#c0c0c0"/>
<rect x="76" y="456" width="3" height="1" fill="#c0c0c0"/>
<rect x="82" y="456" width="3" height="1" fill="#c0c0c0"/>
<rect x="88" y="456" width="3" height="1" fill="#c0c0c0"/>
<rect x="94" y="456" width="3" height="1" fill="#c0c0c0"/>
<rect x="100" y="456" width="3" height="1" fill="#c0c0c0"/>
<rect x="106" y="456" width="3" height="1" fill="#c0c0c0"/>
<rect x="112" y="456" width="3" height="1" fill="#c0c0c0"/>
<rect x="118" y="456" width="3" height="1" fill="#c0c0c0"/>
<rect x="124" y="456" width="3" height="1" fill="#c0c0c0"/>
<rect x="130" y="456" width="3" height="1" fill="#c0c0c0"/>
<rect x="136" y="456" width="3" height="1" fill="#c0c0c0"/>
<rect x="142" y="456" width="3" height="1" fill="#c0c0c0"/>
<rect x="148" y="456" width="3" height="1" fill="#c0c0c0"/>
<rect x="154" y="456" width="3" height="1" fill="#c0c0c0"/>
<rect x="160" y="456" width="3" height="1" fill="#c0c0c0"/>
<rect x="166" y="456" width="3" height="1" fill="#c0c0c0"/>
<rect x="172" y="456" width="3" height="1" fill="#c0c0c0"/>
<rect x="178" y="456" width="3" height="1" fill="#c0c0c0"/>
<rect x="184" y="456" width="3" height="1" fill="#c0c0c0"/>
<rect x="190" y="456" width="3" height="1" fill="#c0c0c0"/>
<rect x="196" y="456" width="3" height="1" fill="#c0c0c0"/>
<rect x="202" y="456" width="3" height="1" fill="#c0c0c0"/>
<rect x="208" y="456" width="3" height="1" fill="#c0c0c0"/>
<rect x="214" y="456" width="3" height="1" fill="#c0c0c0"/>
<rect x="220" y="456" width="3" height="1" fill="#c0c0c0"/>
<rect x="226" y="456" width="3" height="1" fill="#c0c0c0"/>
<rect x="232" y="456" width="3" height="1" fill="#c0c0c0"/>
<rect x="238" y="456" width="3" height="1" fill="#c0c0c0"/>
<rect x="244" y="456" width="3" height="1" fill="#c0c0c0"/>
<rect x="250" y="456" width="3" height="1" fill="#c0c0c0"/>
<rect x="256" y="456" width="3" height="1" fill="#c0c0c0"/>
<rect x="262" y="456" width="3" height="1" fill="#c0c0c0"/>
<rect x="268" y="456" width="3" height="1" fill="#c0c0c0"/>
<rect x="274" y="456" width="3" height="1" fill="#c0c0c0"/>
<rect x="280" y="456" width="3" height="1" fill="#c0c0c0"/>
<rect x="286" y="456" width="3" height="1" fill="#c0c0c0"/>
<rect x="292" y="456" width="3" height="1" fill="#c0c0c0"/>
<rect x="298" y="456" width="3" height="1" fill="#c0c0c0"/>
<rect x="304" y="456" width="3" height="1" fill="#c0c0c0"/>
<rect x="310" y="456" width="3" height="1" fill="#c0c0c0"/>
<rect x="316" y="456" width="3" height="1" fill="#c0c0c0"/>
<rect x="322" y="456" width="3" height="1" fill="#c0c0c0"/>
<rect x="328" y="456" width="3" height="1" fill="#c0c0c0"/>
<rect x="334" y="456" width="3" height="1" fill="#c0c0c0"/>
<rect x="340" y="456" width="3" height="1" fill="#c0c0c0"/>
<rect x="346" y="456" width="3" height="1" fill="#c0c0c0"/>
<rect x="352" y="456" width="3" height="1" fill="#c0c0c0"/>
<rect x="358" y="456" width="3" height="1" fill="#c0c0c0"/>
<rect x="364" y="456" width="3" height="1" fill="#c0c0c0"/>
<rect x="370" y="456" width="3" height="1" fill="#c0c0c0"/>
<rect x="376" y="456" width="3" height="1" fill="#c0c0c0"/>
<rect x="382" y="456" width="3" height="1" fill="#c0c0c0"/>
<rect x="388" y="456" width="3" height="1" fill="#c0c0c0"/>
<rect x="394" y="456" width="3" height="1" fill="#c0c0c0"/>
<rect x="400" y="456" width="3" height="1" fill="#c0c0c0"/>
<rect x="406" y="456" width="3" height="1" fill="#c0c0c0"/>
<rect x="412" y="456" width="3" height="1" fill="#c0c0c0"/>
<rect x="418" y="456" width="3" height="1" fill="#c0c0c0"/>
<rect x="424" y="456" width="3" height="1" fill="#c0c0c0"/>
<rect x="430" y="456" width="3" height="1" fill="#c0c0c0"/>
<rect x="436" y="456" width="3" height="1" fill="#c0c0c0"/>
<rect x="442" y="456" width="3" height="1" fill="#c0c0c0"/>
<rect x="448" y="456" width="3" height="1" fill="#c0c0c0"/>
<rect x="454" y="456" width="3" height="1" fill="#c0c0c0"/>
<rect x="460" y="456" width="3" height="1" fill="#c0c0c0"/>
<rect x="466" y="456" width="3" height="1" fill="#c0c0c0"/>
<rect x="472" y="456" width="3" height="1" fill="#c0c0c0"/>
<rect x="478" y="456" width="3" height="1" fill="#c0c0c0"/>
<rect x="484" y="456" width="3" height="1" fill="#c0c0c0"/>
<rect x="490" y="456" width="3" height="1" fill="#c0c0c0"/>
<rect x="496" y="456" width="3" height="1" fill="#c0c0c0"/>
<rect x="502" y="456" width="3" height="1" fill="#c0c0c0"/>
<rect x="508" y="456" width="3" height="1" fill="#c0c0c0"/>
<rect x="514" y="456" width="3" height="1" fill="#c0c0c0"/>
<rect x="520" y="456" width="3" height="1" fill="#c0c0c0"/>
<rect x="526" y="456" width="3" height="1" fill="#c0c0c0"/>
<rect x="532" y="456" width="3" height="1" fill="#c0c0c0"/>
<rect x="538" y="456" width="3" height="1" fill="#c0c0c0"/>
<rect x="544" y="456" width="3" height="1" fill="#c0c0c0"/>
<rect x="550" y="456" width="3" height="1" fill="#c0c0c0"/>
<rect x="556" y="456" width="3" height="1" fill="#c0c0c0"/>
<rect x="562" y="456" width="3" height="1" fill="#c0c0c0"/>
<rect x="568" y="456" width="3" height="1" fill="#c0c0c0"/>
<rect x="574" y="456" width="3" height="1" fill="#c0c0c0"/>
<rect x="580" y="456" width="3" height="1" fill="#c0c0c0"/>
<rect x="586" y="456" width="3" height="1" fill="#c0c0c0"/>
<rect x="592" y="456" width="3" height="1" fill="#c0c0c0"/>
<rect x="598" y="456" width="3" height="1" fill="#c0c0c0"/>
<rect x="604" y="456" width="3" height="1" fill="#c0c0c0"/>
<rect x="610" y="456" width="3" height="1" fill="#c0c0c0"/>
<rect x="616" y="456" width="3" height="1" fill="#c0c0c0"/>
<rect x="622" y="456" width="3" height="1" fill="#c0c0c0"/>
<rect x="628" y="456" width="3" height="1" fill="#c0c0c0"/>
<rect x="634" y="456" width="3" height="1" fill="#c0c0c0"/>
<rect x="640" y="456" width="3" height="1" fill="#c0c0c0"/>
<rect x="646" y="456" width="3" height="1" fill="#c0c0c0"/>
<rect x="652" y="456" width="3" height="1" fill="#c0c0c0"/>
<rect x="658" y="456" width="1" height="1" fill="#c0c0c0"/>
<rect x="4" y="472" width="3" height="1" fill="#c0c0c0"/>
<rect x="10" y="472" width="3" height="1" fill="#c0c0c0"/>
<rect x="16" y="472" width="3" height="1" fill="#c0c0c0"/>
<rect x="22" y="472" width="3" height="1" fill="#c0c0c0"/>
<rect x="28" y="472" width="3" height="1" fill="#c0c0c0"/>
<rect x="34" y="472" width="3" height="1" fill="#c0c0c0"/>
<rect x="40" y="472" width="3" height="1" fill="#c0c0c0"/>
<rect x="46" y="472" width="3" height="1" fill="#c0c0c0"/>
<rect x="52" y="472" width="3" height="1" fill="#c0c0c0"/>
<rect x="58" y="472" width="3" height="1" fill="#c0c0c0"/>
<rect x="64" y="472" width="3" height="1" fill="#c0c0c0"/>
<rect x="70" y="472" width="3" height="1" fill="#c0c0c0"/>
<rect x="76" y="472" width="3" height="1" fill="#c0c0c0"/>
<rect x="82" y="472" width="3" height="1" fill="#c0c0c0"/>
<rect x="88" y="472" width="3" height="1" fill="#c0c0c0"/>
<rect x="94" y="472" width="3" height="1" fill="#c0c0c0"/>
<rect x="100" y="472" width="3" height="1" fill="#c0c0c0"/>
<rect x="106" y="472" width="3" height="1" fill="#c0c0c0"/>
<rect x="112" y="472" width="3" height="1" fill="#c0c0c0"/>
<rect x="118" y="472" width="3" height="1" fill="#c0c0c0"/>
<rect x="124" y="472" width="3" height="1" fill="#c0c0c0"/>
<rect x="130" y="472" width="3" height="1" fill="#c0c0c0"/>
<rect x="136" y="472" width="3" height="1" fill="#c0c0c0"/>
<rect x="142" y="472" width="3" height="1" fill="#c0c0c0"/>
<rect x="148" y="472" width="3" height="1" fill="#c0c0c0"/>
<rect x="154" y="472" width="3" height="1" fill="#c0c0c0"/>
<rect x="160" y="472" width="3" height="1" fill="#c0c0c0"/>
<rect x="166" y="472" width="3" height="1" fill="#c0c0c0"/>
<rect x="172" y="472" width="3" height="1" fill="#c0c0c0"/>
<rect x="178" y="472" width="3" height="1" fill="#c0c0c0"/>
<rect x="184" y="472" width="3" height="1" fill="#c0c0c0"/>
<rect x="190" y="472" width="3" height="1" fill="#c0c0c0"/>
<rect x="196" y="472" width="3" height="1" fill="#c0c0c0"/>
<rect x="202" y="472" width="3" height="1" fill="#c0c0c0"/>
<rect x="208" y="472" width="3" height="1" fill="#c0c0c0"/>
<rect x="214" y="472" width="3" height="1" fill="#c0c0c0"/>
<rect x="220" y="472" width="3" height="1" fill="#c0c0c0"/>
<rect x="226" y="472" width="3" height="1" fill="#c0c0c0"/>
<rect x="232" y="472" width="3" height="1" fill="#c0c0c0"/>
<rect x="238" y="472" width="3" height="1" fill="#c0c0c0"/>
<rect x="244" y="472" width="3" height="1" fill="#c0c0c0"/>
<rect x="250" y="472" width="3" height="1" fill="#c0c0c0"/>
<rect x="256" y="472" width="3" height="1" fill="#c0c0c0"/>
<rect x="262" y="472" width="3" height="1" fill="#c0c0c0"/>
<rect x="268" y="472" width="3" height="1" fill="#c0c0c0"/>
<rect x="274" y="472" width="3" height="1" fill="#c0c0c0"/>
<rect x="280" y="472" width="3" height="1" fill="#c0c0c0"/>
<rect x="286" y="472" width="3" height="1" fill="#c0c0c0"/>
<rect x="292" y="472" width="3" height="1" fill="#c0c0c0"/>
<rect x="298" y="472" width="3" height="1" fill="#c0c0c0"/>
<rect x="304" y="472" width="3" height="1" fill="#c0c0c0"/>
<rect x="310" y="472" width="3" height="1" fill="#c0c0c0"/>
<rect x="316" y="472" width="3" height="1" fill="#c0c0c0"/>
<rect x="322" y="472" width="3" height="1" fill="#c0c0c0"/>
<rect x="328" y="472" width="3" height="1" fill="#c0c0c0"/>
<rect x="334" y="472" width="3" height="1" fill="#c0c0c0"/>
<rect x="340" y="472" width="3" height="1" fill="#c0c0c0"/>
<rect x="346" y="472" width="3" height="1" fill="#c0c0c0"/>
<rect x="352" y="472" width="3" height="1" fill="#c0c0c0"/>
<rect x="358" y="472" width="3" height="1" fill="#c0c0c0"/>
<rect x="364" y="472" width="3" height="1" fill="#c0c0c0"/>
<rect x="370" y="472" width="3" height="1" fill="#c0c0c0"/>
<rect x="376" y="472" width="3" height="1" fill="#c0c0c0"/>
<rect x="382" y="472" width="3" height="1" fill="#c0c0c0"/>
<rect x="388" y="472" width="3" height="1" fill="#c0c0c0"/>
<rect x="394" y="472" width="3" height="1" fill="#c0c0c0"/>
<rect x="400" y="472" width="3" height="1" fill="#c0c0c0"/>
<rect x="406" y="472" width="3" height="1" fill="#c0c0c0"/>
<rect x="412" y="472" width="3" height="1" fill="#c0c0c0"/>
<rect x="418" y="472" width="3" height="1" fill="#c0c0c0"/>
<rect x="424" y="472" width="3" height="1" fill="#c0c0c0"/>
<rect x="430" y="472" width="3" height="1" fill="#c0c0c0"/>
<rect x="436" y="472" width="3" height="1" fill="#c0c0c0"/>
<rect x="442" y="472" width="3" height="1" fill="#c0c0c0"/>
<rect x="448" y="472" width="3" height="1" fill="#c0c0c0"/>
<rect x="454" y="472" width="3" height="1" fill="#c0c0c0"/>
<rect x="460" y="472" width="3" height="1" fill="#c0c0c0"/>
<rect x="466" y="472" width="3" height="1" fill="#c0c0c0"/>
<rect x="472" y="472" width="3" height="1" fill="#c0c0c0"/>
<rect x="478" y="472" width="3" height="1" fill="#c0c0c0"/>
<rect x="484" y="472" width="3" height="1" fill="#c0c0c0"/>
<rect x="490" y="472" width="3" height="1" fill="#c0c0c0"/>
<rect x="496" y="472" width="3" height="1" fill="#c0c0c0"/>
<rect x="502" y="472" width="3" height="1" fill="#c0c0c0"/>
<rect x="508" y="472" width="3" height="1" fill="#c0c0c0"/>
<rect x="514" y="472" width="3" height="1" fill="#c0c0c0"/>
<rect x="520" y="472" width="3" height="1" fill="#c0c0c0"/>
<rect x="526" y="472" width="3" height="1" fill="#c0c0c0"/>
<rect x="532" y="472" width="3" height="1" fill="#c0c0c0"/>
<rect x="538" y="472" width="3" height="1" fill="#c0c0c0"/>
<rect x="544" y="472" width="3" height="1" fill="#c0c0c0"/>
<rect x="550" y="472" width="3" height="1" fill="#c0c0c0"/>
<rect x="556" y="472" width="3" height="1" fill="#c0c0c0"/>
<rect x="562" y="472" width="3" height="1" fill="#c0c0c0"/>
<rect x="568" y="472" width="3" height="1" fill="#c0c0c0"/>
<rect x="574" y="472" width="3" height="1" fill="#c0c0c0"/>
<rect x="580" y="472" width="3" height="1" fill="#c0c0c0"/>
<rect x="586" y="472" width="3" height="1" fill="#c0c0c0"/>
<rect x="592" y="472" width="3" height="1" fill="#c0c0c0"/>
<rect x="598" y="472" width="3" height="1" fill="#c0c0c0"/>
<rect x="604" y="472" width="3" height="1" fill="#c0c0c0"/>
<rect x="610" y="472" width="3" height="1" fill="#c0c0c0"/>
<rect x="616" y="472" width="3" height="1" fill="#c0c0c0"/>
<rect x="622" y="472" width="3" height="1" fill="#c0c0c0"/>
<rect x="628" y="472" width="3" height="1" fill="#c0c0c0"/>
<rect x="634" y="472" width="3" height="1" fill="#c0c0c0"/>
<rect x="640" y="472" width="3" height="1" fill="#c0c0c0"/>
<rect x="646" y="472" width="3" height="1" fill="#c0c0c0"/>
<rect x="652" y="472" width="3" height="1" fill="#c0c0c0"/>
<rect x="658" y="472" width="1" height="1" fill="#c0c0c0"/>
<rect x="4" y="514" width="3" height="1" fill="#c0c0c0"/>
<rect x="10" y="514" width="3" height="1" fill="#c0c0c0"/>
<rect x="16" y="514" width="3" height="1" fill="#c0c0c0"/>
<rect x="22" y="514" width="3" height="1" fill="#c0c0c0"/>
<rect x="28" y="514" width="3" height="1" fill="#c0c0c0"/>
<rect x="34" y="514" width="3" height="1" fill="#c0c0c0"/>
<rect x="40" y="514" width="3" height="1" fill="#c0c0c0"/>
<rect x="46" y="514" width="3" height="1" fill="#c0c0c0"/>
<rect x="52" y="514" width="3" height="1" fill="#c0c0c0"/>
<rect x="58" y="514" width="3" height="1" fill="#c0c0c0"/>
<rect x="64" y="514" width="3" height="1" fill="#c0c0c0"/>
<rect x="70" y="514" width="3" height="1" fill="#c0c0c0"/>
<rect x="76" y="514" width="3" height="1" fill="#c0c0c0"/>
<rect x="82" y="514" width="3" height="1" fill="#c0c0c0"/>
<rect x="88" y="514" width="3" height="1" fill="#c0c0c0"/>
<rect x="94" y="514" width="3" height="1" fill="#c0c0c0"/>
<rect x="100" y="514" width="3" height="1" fill="#c0c0c0"/>
<rect x="106" y="514" width="3" height="1" fill="#c0c0c0"/>
<rect x="112" y="514" width="3" height="1" fill="#c0c0c0"/>
<rect x="118" y="514" width="3" height="1" fill="#c0c0c0"/>
<rect x="124" y="514" width="3" height="1" fill="#c0c0c0"/>
<rect x="130" y="514" width="3" height="1" fill="#c0c0c0"/>
<rect x="136" y="514" width="3" height="1" fill="#c0c0c0"/>
<rect x="142" y="514" width="3" height="1" fill="#c0c0c0"/>
<rect x="148" y="514" width="3" height="1" fill="#c0c0c0"/>
<rect x="154" y="514" width="3" height="1" fill="#c0c0c0"/>
<rect x="160" y="514" width="3" height="1" fill="#c0c0c0"/>
<rect x="166" y="514" width="3" height="1" fill="#c0c0c0"/>
<rect x="172" y="514" width="3" height="1" fill="#c0c0c0"/>
<rect x="178" y="514" width="3" height="1" fill="#c0c0c0"/>
<rect x="184" y="514" width="3" height="1" fill="#c0c0c0"/>
<rect x="190" y="514" width="3" height="1" fill="#c0c0c0"/>
<rect x="196" y="514" width="3" height="1" fill="#c0c0c0"/>
<rect x="202" y="514" width="3" height="1" fill="#c0c0c0"/>
<rect x="208" y="514" width="3" height="1" fill="#c0c0c0"/>
<rect x="214" y="514" width="3" height="1" fill="#c0c0c0"/>
<rect x="220" y="514" width="3" height="1" fill="#c0c0c0"/>
<rect x="226" y="514" width="3" height="1" fill="#c0c0c0"/>
<rect x="232" y="514" width="3" height="1" fill="#c0c0c0"/>
<rect x="238" y="514" width="3" height="1" fill="#c0c0c0"/>
<rect x="244" y="514" width="3" height="1" fill="#c0c0c0"/>
<rect x="250" y="514" width="3" height="1" fill="#c0c0c0"/>
<rect x="256" y="514" width="3" height="1" fill="#c0c0c0"/>
<rect x="262" y="514" width="3" height="1" fill="#c0c0c0"/>
<rect x="268" y="514" width="3" height="1" fill="#c0c0c0"/>
<rect x="274" y="514" width="3" height="1" fill="#c0c0c0"/>
<rect x="280" y="514" width="3" height="1" fill="#c0c0c0"/>
<rect x="286" y="514" width="3" height="1" fill="#c0c0c0"/>
<rect x="292" y="514" width="3" height="1" fill="#c0c0c0"/>
<rect x="298" y="514" width="3" height="1" fill="#c0c0c0"/>
<rect x="304" y="514" width="3" height="1" fill="#c0c0c0"/>
<rect x="310" y="514" width="3" height="1" fill="#c0c0c0"/>
<rect x="316" y="514" width="3" height="1" fill="#c0c0c0"/>
<rect x="322" y="514" width="3" height="1" fill="#c0c0c0"/>
<rect x="328" y="514" width="3" height="1" fill="#c0c0c0"/>
<rect x="334" y="514" width="3" height="1" fill="#c0c0c0"/>
<rect x="340" y="514" width="3" height="1" fill="#c0c0c0"/>
<rect x="346" y="514" width="3" height="1" fill="#c0c0c0"/>
<rect x="352" y="514" width="3" height="1" fill="#c0c0c0"/>
<rect x="358" y="514" width="3" height="1" fill="#c0c0c0"/>
<rect x="364" y="514" width="3" height="1" fill="#c0c0c0"/>
<rect x="370" y="514" width="3" height="1" fill="#c0c0c0"/>
<rect x="376" y="514" width="3" height="1" fill="#c0c0c0"/>
<rect x="382" y="514" width="3" height="1" fill="#c0c0c0"/>
<rect x="388" y="514" width="3" height="1" fill="#c0c0c0"/>
<rect x="394" y="514" width="3" height="1" fill="#c0c0c0"/>
<rect x="400" y="514" width="3" height="1" fill="#c0c0c0"/>
<rect x="406" y="514" width="3" height="1" fill="#c0c0c0"/>
<rect x="412" y="514" width="3" height="1" fill="#c0c0c0"/>
<rect x="418" y="514" width="3" height="1" fill="#c0c0c0"/>
<rect x="424" y="514" width="3" height="1" fill="#c0c0c0"/>
<rect x="430" y="514" width="3" height="1" fill="#c0c0c0"/>
<rect x="436" y="514" width="3" height="1" fill="#c0c0c0"/>
<rect x="442" y="514" width="3" height="1" fill="#c0c0c0"/>
<rect x="448" y="514" width="3" height="1" fill="#c0c0c0"/>
<rect x="454" y="514" width="3" height="1" fill="#c0c0c0"/>
<rect x="460" y="514" width="3" height="1" fill="#c0c0c0"/>
<rect x="466" y="514" width="3" height="1" fill="#c0c0c0"/>
<rect x="472" y="514" width="3" height="1" fill="#c0c0c0"/>
<rect x="478" y="514" width="3" height="1" fill="#c0c0c0"/>
<rect x="484" y="514" width="3" height="1" fill="#c0c0c0"/>
<rect x="490" y="514" width="3" height="1" fill="#c0c0c0"/>
<rect x="496" y="514" width="3" height="1" fill="#c0c0c0"/>
<rect x="502" y="514" width="3" height="1" fill="#c0c0c0"/>
<rect x="508" y="514" width="3" height="1" fill="#c0c0c0"/>
<rect x="514" y="514" width="3" height="1" fill="#c0c0c0"/>
<rect x="520" y="514" width="3" height="1" fill="#c0c0c0"/>
<rect x="526" y="514" width="3" height="1" fill="#c0c0c0"/>
<rect x="532" y="514" width="3" height="1" fill="#c0c0c0"/>
<rect x="538" y="514" width="3" height="1" fill="#c0c0c0"/>
<rect x="544" y="514" width="3" height="1" fill="#c0c0c0"/>
<rect x="550" y="514" width="3" height="1" fill="#c0c0c0"/>
<rect x="556" y="514" width="3" height="1" fill="#c0c0c0"/>
<rect x="562" y="514" width="3" height="1" fill="#c0c0c0"/>
<rect x="568" y="514" width="3" height="1" fill="#c0c0c0"/>
<rect x="574" y="514" width="3" height="1" fill="#c0c0c0"/>
<rect x="580" y="514" width="3" height="1" fill="#c0c0c0"/>
<rect x="586" y="514" width="3" height="1" fill="#c0c0c0"/>
<rect x="592" y="514" width="3" height="1" fill="#c0c0c0"/>
<rect x="598" y="514" width="3" height="1" fill="#c0c0c0"/>
<rect x="604" y="514" width="3" height="1" fill="#c0c0c0"/>
<rect x="610" y="514" width="3" height="1" fill="#c0c0c0"/>
<rect x="616" y="514" width="3" height="1" fill="#c0c0c0"/>
<rect x="622" y="514" width="3" height="1" fill="#c0c0c0"/>
<rect x="628" y="514" width="3" height="1" fill="#c0c0c0"/>
<rect x="634" y="514" width="3" height="1" fill="#c0c0c0"/>
<rect x="640" y="514" width="3" height="1" fill="#c0c0c0"/>
<rect x="646" y="514" width="3" height="1" fill="#c0c0c0"/>
<rect x="652" y="514" width="3" height="1" fill="#c0c0c0"/>
<rect x="658" y="514" width="1" height="1" fill="#c0c0c0"/>
<polyline points="3.50,397.12 7.50,397.08 11.50,398.25 15.50,396.46 19.50,395.21 23.50,395.87 27.50,401.51 31.50,400.51 35.50,404.57 39.50,400.39 43.50,398.78 47.50,393.98 51.50,396.22 55.50,395.34 59.50,397.14 63.50,399.25 67.50,398.54 71.50,399.84 75.50,397.96 79.50,396.90 83.50,393.28 87.50,396.05 91.50,395.45 95.50,395.45 99.50,393.34 103.50,398.38 107.50,399.58 111.50,406.13 115.50,407.55 119.50,404.97 123.50,410.06 127.50,411.58 131.50,413.05 135.50,408.02 139.50,407.17 143.50,407.17 147.50,408.10 151.50,407.11 155.50,404.01 159.50,405.35 163.50,405.04 167.50,405.04 171.50,406.51 175.50,410.92 179.50,407.60 183.50,409.18 187.50,406.13 191.50,405.54 195.50,404.93 199.50,405.61 203.50,405.85 207.50,405.85 211.50,406.11 215.50,402.39 219.50,402.39 223.50,404.27 227.50,398.75 231.50,401.49 235.50,401.49 239.50,408.23 243.50,402.54 247.50,404.50 251.50,402.15 255.50,402.78 259.50,399.68 263.50,401.22 267.50,402.70 271.50,398.38 275.50,399.69 279.50,399.91 283.50,398.48 287.50,401.01 291.50,398.94 295.50,402.14 299.50,404.36 303.50,405.06 307.50,402.11 311.50,403.80 315.50,403.80 319.50,404.00 323.50,405.22 327.50,404.93 331.50,403.76 335.50,402.60 339.50,403.85 343.50,401.78 347.50,404.05 351.50,403.74 355.50,403.74 359.50,401.75 363.50,404.77 367.50,402.22 371.50,402.78 375.50,402.12 379.50,400.50 383.50,405.24 387.50,400.36 391.50,399.85 395.50,398.83 399.50,397.58 403.50,396.84 407.50,394.97 411.50,394.97 415.50,396.49 419.50,396.88 423.50,396.02 427.50,398.80 431.50,399.92 435.50,394.22 439.50,394.60 443.50,395.78 447.50,395.01 451.50,394.49 455.50,394.49 459.50,392.17 463.50,392.66 467.50,395.97 471.50,396.87 475.50,396.87 479.50,399.18 483.50,401.30 487.50,402.51 491.50,403.30 495.50,403.71 499.50,404.93 503.50,402.83 507.50,404.52 511.50,408.64 515.50,406.07 519.50,405.08 523.50,399.28 527.50,400.46 531.50,400.46 535.50,400.05 539.50,399.21 543.50,400.18 547.50,402.05 551.50,398.52 555.50,399.49 559.50,396.72 563.50,400.42 567.50,396.55 571.50,395.93 575.50,393.62 579.50,394.59 583.50,389.82 587.50,387.78 591.50,386.71 595.50,391.23 599.50,393.44 603.50,391.96 607.50,394.45 611.50,396.44 615.50,395.33 619.50,392.44 623.50,391.92 627.50,393.37 631.50,392.78" fill="none" stroke="#0000ff" stroke-width="1" />
<polyline points="3.50,397.62 7.50,397.56 11.50,397.62 15.50,397.48 19.50,397.21 23.50,397.00 27.50,397.43 31.50,397.74 35.50,398.51 39.50,398.87 43.50,399.06 47.50,398.59 51.50,398.56 55.50,398.57 59.50,398.71 63.50,398.46 67.50,398.24 71.50,397.72 75.50,397.45 79.50,397.24 83.50,397.16 87.50,397.14 91.50,397.16 95.50,396.97 99.50,396.31 103.50,396.30 107.50,396.27 111.50,397.17 115.50,398.36 119.50,399.66 123.50,401.21 127.50,403.00 131.50,404.96 135.50,406.59 139.50,407.57 143.50,408.41 147.50,408.63 151.50,408.58 155.50,408.48 159.50,407.95 163.50,407.23 167.50,406.33 171.50,406.17 175.50,406.58 179.50,406.63 183.50,406.75 187.50,406.64 191.50,406.81 195.50,406.77 199.50,406.83 203.50,406.92 207.50,406.85 211.50,406.31 215.50,405.73 219.50,404.98 223.50,404.77 227.50,404.02 231.50,403.64 235.50,403.18 239.50,403.44 243.50,403.07 247.50,402.89 251.50,402.87 255.50,402.91 259.50,402.40 263.50,402.68 267.50,402.81 271.50,402.47 275.50,401.52 279.50,401.22 283.50,400.56 287.50,400.43 291.50,400.00 295.50,400.28 299.50,400.62 303.50,400.89 307.50,401.30 311.50,401.76 315.50,402.19 319.50,402.80 323.50,403.27 327.50,403.93 331.50,404.11 335.50,403.92 339.50,403.79 343.50,403.75 347.50,403.78 351.50,403.77 355.50,403.74 359.50,403.36 363.50,403.34 367.50,403.17 371.50,403.19 375.50,402.99 379.50,402.85 383.50,402.98 387.50,402.61 391.50,402.18 395.50,401.85 399.50,401.05 403.50,400.45 407.50,399.58 411.50,398.79 415.50,398.35 419.50,397.42 423.50,396.93 427.50,396.82 431.50,396.94 435.50,396.57 439.50,396.32 443.50,396.41 447.50,396.41 451.50,396.19 455.50,395.93 459.50,395.50 463.50,394.82 467.50,394.38 471.50,394.67 475.50,394.92 479.50,395.30 483.50,396.00 487.50,396.89 491.50,397.87 495.50,399.15 499.50,400.52 503.50,401.28 507.50,402.13 511.50,403.43 515.50,404.20 519.50,404.62 523.50,404.26 527.50,403.95 531.50,403.58 535.50,403.04 539.50,402.64 543.50,402.16 547.50,401.42 551.50,400.59 555.50,399.96 559.50,399.68 563.50,399.68 567.50,399.24 571.50,398.78 575.50,398.16 579.50,397.54 583.50,396.19 587.50,394.99 591.50,393.57 595.50,392.96 599.50,392.19 603.50,391.68 607.50,391.51 611.50,391.82 615.50,391.91 619.50,392.20 623.50,392.66 627.50,393.40 631.50,393.57" fill="none" stroke="#ff0000" stroke-width="1" />
<polyline points="3.50,452.79 7.50,452.79 11.50,453.93 15.50,455.64 19.50,453.93 23.50,451.80 27.50,456.60 31.50,462.55 35.50,472.73 39.50,469.36 43.50,463.64 47.50,449.55 51.50,447.30 55.50,447.59 59.50,452.21 63.50,456.28 67.50,462.36 71.50,466.79 75.50,458.81 79.50,450.11 83.50,446.50 87.50,442.50 91.50,448.79 95.50,460.21 99.50,460.79 103.50,463.61 107.50,464.81 111.50,456.83 115.50,452.46 119.50,448.74 123.50,451.28 127.50,453.92 131.50,461.14 135.50,462.63 139.50,463.64 143.50,456.21 147.50,450.65 151.50,447.64 155.50,445.89 159.50,444.69 163.50,444.38 167.50,446.50 171.50,450.50 175.50,466.50 179.50,467.40 183.50,470.21 187.50,463.48 191.50,460.59 195.50,451.80 199.50,449.97 203.50,451.07 207.50,454.50 211.50,458.56 215.50,451.80 219.50,446.48 223.50,445.54 227.50,441.66 231.50,444.42 235.50,446.50 239.50,464.79 243.50,463.64 247.50,464.17 251.50,457.36 255.50,455.01 259.50,445.22 263.50,443.64 267.50,448.74 271.50,450.34 275.50,448.79 279.50,442.82 283.50,442.82 287.50,448.35 291.50,449.86 295.50,457.93 299.50,465.08 303.50,470.57 307.50,471.64 311.50,468.78 315.50,465.36 319.50,462.80 323.50,461.13 327.50,463.23 331.50,461.42 335.50,452.21 339.50,442.76 343.50,441.70 347.50,451.00 351.50,457.93 355.50,469.93 359.50,460.79 363.50,464.79 367.50,455.87 371.50,461.27 375.50,458.50 379.50,456.97 383.50,463.12 387.50,460.39 391.50,461.32 395.50,452.21 399.50,447.34 403.50,443.64 407.50,436.51 411.50,436.81 415.50,441.46 419.50,448.79 423.50,455.30 427.50,462.50 431.50,464.01 435.50,453.93 439.50,443.25 443.50,438.91 447.50,439.46 451.50,439.44 455.50,443.37 459.50,445.07 463.50,447.74 467.50,449.02 471.50,456.79 475.50,467.90 479.50,467.07 483.50,463.64 487.50,457.98 491.50,459.07 495.50,460.79 499.50,463.07 503.50,461.93 507.50,459.07 511.50,463.07 515.50,466.84 519.50,465.36 523.50,453.93 527.50,451.64 531.50,445.97 535.50,449.93 539.50,448.35 543.50,451.07 547.50,457.36 551.50,458.84 555.50,456.21 559.50,447.80 563.50,451.31 567.50,447.57 571.50,448.07 575.50,441.93 579.50,443.70 583.50,441.05 587.50,436.73 591.50,433.22 595.50,436.62 599.50,441.93 603.50,448.79 607.50,455.64 611.50,463.64 615.50,468.52 619.50,458.52 623.50,446.50 627.50,443.43 631.50,442.45" fill="none" stroke="#20b2aa" stroke-width="1" />
<polyline points="3.50,451.99 7.50,452.44 11.50,453.36 15.50,453.93 19.50,453.59 23.50,453.36 27.50,454.79 31.50,459.64 35.50,465.93 39.50,467.77 43.50,465.93 47.50,457.93 51.50,451.64 55.50,448.15 59.50,448.60 63.50,454.50 67.50,460.79 71.50,464.21 75.50,462.65 79.50,458.57 83.50,456.21 87.50,450.50 91.50,445.50 95.50,451.55 99.50,456.61 103.50,460.58 107.50,462.55 111.50,461.75 115.50,458.03 119.50,452.68 123.50,450.83 127.50,451.31 131.50,455.45 135.50,459.23 139.50,461.95 143.50,459.39 147.50,455.39 151.50,451.64 155.50,447.60 159.50,445.62 163.50,444.99 167.50,445.73 171.50,448.19 175.50,453.93 179.50,461.55 183.50,467.60 187.50,467.03 191.50,464.76 195.50,458.62 199.50,454.12 203.50,451.46 207.50,451.64 211.50,456.15 215.50,453.36 219.50,452.28 223.50,447.94 227.50,444.56 231.50,443.87 235.50,445.36 239.50,452.21 243.50,457.93 247.50,462.92 251.50,460.49 255.50,458.22 259.50,451.91 263.50,448.50 267.50,446.41 271.50,448.12 275.50,449.29 279.50,447.32 283.50,444.81 287.50,445.93 291.50,448.79 295.50,454.50 299.50,460.21 303.50,464.94 307.50,469.93 311.50,469.87 315.50,468.79 319.50,465.04 323.50,464.79 327.50,463.07 331.50,461.41 335.50,458.25 339.50,453.36 343.50,446.50 347.50,444.21 351.50,450.50 355.50,459.07 359.50,461.93 363.50,464.79 367.50,460.79 371.50,460.79 375.50,457.62 379.50,458.40 383.50,459.02 387.50,460.16 391.50,461.61 395.50,457.47 399.50,453.12 403.50,448.79 407.50,443.07 411.50,438.33 415.50,439.64 419.50,445.36 423.50,452.79 427.50,459.64 431.50,460.60 435.50,457.93 439.50,452.21 443.50,445.36 447.50,440.54 451.50,439.27 455.50,440.76 459.50,442.63 463.50,445.39 467.50,447.28 471.50,451.90 475.50,458.62 479.50,464.24 483.50,464.80 487.50,461.50 491.50,460.21 495.50,460.44 499.50,461.36 503.50,461.13 507.50,460.79 511.50,461.13 515.50,464.21 519.50,465.36 523.50,461.13 527.50,455.41 531.50,450.50 535.50,448.79 539.50,448.79 543.50,450.84 547.50,454.50 551.50,456.79 555.50,456.79 559.50,454.50 563.50,451.03 567.50,448.89 571.50,447.64 575.50,445.86 579.50,443.07 583.50,442.22 587.50,440.49 591.50,437.00 595.50,435.52 599.50,437.80 603.50,441.93 607.50,448.79 611.50,456.21 615.50,463.83 619.50,464.27 623.50,460.79 627.50,453.93 631.50,447.64" fill="none" stroke="#ff0000" stroke-width="1" stroke-dasharray="3 3"/>
<rect x="3" y="509" width="1" height="6" fill="#0000ff"/>
<rect x="7" y="511" width="1" height="4" fill="#0000ff"/>
<rect x="11" y="510" width="1" height="5" fill="#0000ff"/>
<rect x="15" y="508" width="1" height="7" fill="#0000ff"/>
<rect x="19" y="507" width="1" height="8" fill="#0000ff"/>
<rect x="23" y="507" width="1" height="8" fill="#0000ff"/>
<rect x="27" y="507" width="1" height="8" fill="#0000ff"/>
<rect x="31" y="508" width="1" height="7" fill="#0000ff"/>
<rect x="35" y="510" width="1" height="5" fill="#0000ff"/>
<rect x="39" y="511" width="1" height="4" fill="#0000ff"/>
<rect x="43" y="511" width="1" height="4" fill="#0000ff"/>
<rect x="47" y="510" width="1" height="5" fill="#0000ff"/>
<rect x="51" y="507" width="1" height="8" fill="#0000ff"/>
<rect x="55" y="508" width="1" height="7" fill="#0000ff"/>
<rect x="59" y="507" width="1" height="8" fill="#0000ff"/>
<rect x="63" y="507" width="1" height="8" fill="#0000ff"/>
<rect x="67" y="507" width="1" height="8" fill="#0000ff"/>
<rect x="71" y="508" width="1" height="7" fill="#0000ff"/>
<rect x="75" y="508" width="1" height="7" fill="#0000ff"/>
<rect x="79" y="507" width="1" height="8" fill="#0000ff"/>
<rect x="83" y="506" width="1" height="9" fill="#0000ff"/>
<rect x="87" y="505" width="1" height="10" fill="#0000ff"/>
<rect x="91" y="504" width="1" height="11" fill="#0000ff"/>
<rect x="95" y="504" width="1" height="11" fill="#0000ff"/>
<rect x="99" y="503" width="1" height="12" fill="#0000ff"/>
<rect x="103" y="504" width="1" height="11" fill="#0000ff"/>
<rect x="107" y="505" width="1" height="10" fill="#0000ff"/>
<rect x="111" y="509" width="1" height="6" fill="#0000ff"/>
<rect x="115" y="512" width="1" height="3" fill="#0000ff"/>
<rect x="119" y="514" width="1" height="1" fill="#0000ff"/>
<rect x="123" y="514" width="1" height="6" fill="#0000ff"/>
<rect x="127" y="514" width="1" height="12" fill="#0000ff"/>
<rect x="131" y="514" width="1" height="17" fill="#0000ff"/>
<rect x="135" y="514" width="1" height="19" fill="#0000ff"/>
<rect x="139" y="514" width="1" height="20" fill="#0000ff"/>
<rect x="143" y="514" width="1" height="20" fill="#0000ff"/>
<rect x="147" y="514" width="1" height="21" fill="#0000ff"/>
<rect x="151" y="514" width="1" height="21" fill="#0000ff"/>
<rect x="155" y="514" width="1" height="20" fill="#0000ff"/>
<rect x="159" y="514" width="1" height="19" fill="#0000ff"/>
<rect x="163" y="514" width="1" height="18" fill="#0000ff"/>
<rect x="167" y="514" width="1" height="17" fill="#0000ff"/>
<rect x="171" y="514" width="1" height="17" fill="#0000ff"/>
<rect x="175" y="514" width="1" height="20" fill="#0000ff"/>
<rect x="179" y="514" width="1" height="21" fill="#0000ff"/>
<rect x="183" y="514" width="1" height="22" fill="#0000ff"/>
<rect x="187" y="514" width="1" height="22" fill="#0000ff"/>
<rect x="191" y="514" width="1" height="21" fill="#0000ff"/>
<rect x="195" y="514" width="1" height="20" fill="#0000ff"/>
<rect x="199" y="514" width="1" height="19" fill="#0000ff"/>
<rect x="203" y="514" width="1" height="19" fill="#0000ff"/>
<rect x="207" y="514" width="1" height="18" fill="#0000ff"/>
<rect x="211" y="514" width="1" height="17" fill="#0000ff"/>
<rect x="215" y="514" width="1" height="15" fill="#0000ff"/>
<rect x="219" y="514" width="1" height="14" fill="#0000ff"/>
<rect x="223" y="514" width="1" height="13" fill="#0000ff"/>
<rect x="227" y="514" width="1" height="10" fill="#0000ff"/>
<rect x="231" y="514" width="1" height="9" fill="#0000ff"/>
<rect x="235" y="514" width="1" height="8" fill="#0000ff"/>
<rect x="239" y="514" width="1" height="11" fill="#0000ff"/>
<rect x="243" y="514" width="1" height="10" fill="#0000ff"/>
<rect x="247" y="514" width="1" height="11" fill="#0000ff"/>
<rect x="251" y="514" width="1" height="10" fill="#0000ff"/>
<rect x="255" y="514" width="1" height="10" fill="#0000ff"/>
<rect x="259" y="514" width="1" height="7" fill="#0000ff"/>
<rect x="263" y="514" width="1" height="7" fill="#0000ff"/>
<rect x="267" y="514" width="1" height="7" fill="#0000ff"/>
<rect x="271" y="514" width="1" height="4" fill="#0000ff"/>
<rect x="275" y="514" width="1" height="3" fill="#0000ff"/>
<rect x="279" y="514" width="1" height="2" fill="#0000ff"/>
<rect x="283" y="513" width="1" height="2" fill="#0000ff"/>
<rect x="287" y="513" width="1" height="2" fill="#0000ff"/>
<rect x="291" y="512" width="1" height="3" fill="#0000ff"/>
<rect x="295" y="513" width="1" height="2" fill="#0000ff"/>
<rect x="299" y="514" width="1" height="2" fill="#0000ff"/>
<rect x="303" y="514" width="1" height="5" fill="#0000ff"/>
<rect x="307" y="514" width="1" height="5" fill="#0000ff"/>
<rect x="311" y="514" width="1" height="6" fill="#0000ff"/>
<rect x="315" y="514" width="1" height="7" fill="#0000ff"/>
<rect x="319" y="514" width="1" height="8" fill="#0000ff"/>
<rect x="323" y="514" width="1" height="9" fill="#0000ff"/>
<rect x="327" y="514" width="1" height="10" fill="#0000ff"/>
<rect x="331" y="514" width="1" height="10" fill="#0000ff"/>
<rect x="335" y="514" width="1" height="10" fill="#0000ff"/>
<rect x="339" y="514" width="1" height="10" fill="#0000ff"/>
<rect x="343" y="514" width="1" height="9" fill="#0000ff"/>
<rect x="347" y="514" width="1" height="9" fill="#0000ff"/>
<rect x="351" y="514" width="1" height="9" fill="#0000ff"/>
<rect x="355" y="514" width="1" height="9" fill="#0000ff"/>
<rect x="359" y="514" width="1" height="8" fill="#0000ff"/>
<rect x="363" y="514" width="1" height="9" fill="#0000ff"/>
<rect x="367" y="514" width="1" height="8" fill="#0000ff"/>
<rect x="371" y="514" width="1" height="8" fill="#0000ff"/>
<rect x="375" y="514" width="1" height="7" fill="#0000ff"/>
<rect x="379" y="514" width="1" height="6" fill="#0000ff"/>
<rect x="383" y="514" width="1" height="7" fill="#0000ff"/>
<rect x="387" y="514" width="1" height="6" fill="#0000ff"/>
<rect x="391" y="514" width="1" height="5" fill="#0000ff"/>
<rect x="395" y="514" width="1" height="3" fill="#0000ff"/>
<rect x="399" y="514" width="1" height="1" fill="#0000ff"/>
<rect x="403" y="512" width="1" height="3" fill="#0000ff"/>
<rect x="407" y="509" width="1" height="6" fill="#0000ff"/>
<rect x="411" y="507" width="1" height="8" fill="#0000ff"/>
<rect x="415" y="506" width="1" height="9" fill="#0000ff"/>
<rect x="419" y="506" width="1" height="9" fill="#0000ff"/>
<rect x="423" y="505" width="1" height="10" fill="#0000ff"/>
<rect x="427" y="506" width="1" height="9" fill="#0000ff"/>
<rect x="431" y="507" width="1" height="8" fill="#0000ff"/>
<rect x="435" y="504" width="1" height="11" fill="#0000ff"/>
<rect x="439" y="503" width="1" height="12" fill="#0000ff"/>
<rect x="443" y="503" width="1" height="12" fill="#0000ff"/>
<rect x="447" y="502" width="1" height="13" fill="#0000ff"/>
<rect x="451" y="501" width="1" height="14" fill="#0000ff"/>
<rect x="455" y="501" width="1" height="14" fill="#0000ff"/>
<rect x="459" y="499" width="1" height="16" fill="#0000ff"/>
<rect x="463" y="499" width="1" height="16" fill="#0000ff"/>
<rect x="467" y="499" width="1" height="16" fill="#0000ff"/>
<rect x="471" y="500" width="1" height="15" fill="#0000ff"/>
<rect x="475" y="501" width="1" height="14" fill="#0000ff"/>
<rect x="479" y="502" width="1" height="13" fill="#0000ff"/>
<rect x="483" y="504" width="1" height="11" fill="#0000ff"/>
<rect x="487" y="506" width="1" height="9" fill="#0000ff"/>
<rect x="491" y="508" width="1" height="7" fill="#0000ff"/>
<rect x="495" y="510" width="1" height="5" fill="#0000ff"/>
<rect x="499" y="512" width="1" height="3" fill="#0000ff"/>
<rect x="503" y="513" width="1" height="2" fill="#0000ff"/>
<rect x="507" y="514" width="1" height="1" fill="#0000ff"/>
<rect x="511" y="514" width="1" height="4" fill="#0000ff"/>
<rect x="515" y="514" width="1" height="5" fill="#0000ff"/>
<rect x="519" y="514" width="1" height="6" fill="#0000ff"/>
<rect x="523" y="514" width="1" height="4" fill="#0000ff"/>
<rect x="527" y="514" width="1" height="4" fill="#0000ff"/>
<rect x="531" y="514" width="1" height="3" fill="#0000ff"/>
<rect x="535" y="514" width="1" height="2" fill="#0000ff"/>
<rect x="539" y="514" width="1" height="2" fill="#0000ff"/>
<rect x="543" y="514" width="1" height="1" fill="#0000ff"/>
<rect x="547" y="514" width="1" height="2" fill="#0000ff"/>
<rect x="551" y="514" width="1" height="1" fill="#0000ff"/>
<rect x="555" y="513" width="1" height="2" fill="#0000ff"/>
<rect x="559" y="512" width="1" height="3" fill="#0000ff"/>
<rect x="563" y="512" width="1" height="3" fill="#0000ff"/>
<rect x="567" y="511" width="1" height="4" fill="#0000ff"/>
<rect x="571" y="509" width="1" height="6" fill="#0000ff"/>
<rect x="575" y="507" width="1" height="8" fill="#0000ff"/>
<rect x="579" y="506" width="1" height="9" fill="#0000ff"/>
<rect x="583" y="502" width="1" height="13" fill="#0000ff"/>
<rect x="587" y="498" width="1" height="17" fill="#0000ff"/>
<rect x="591" y="494" width="1" height="21" fill="#0000ff"/>
<rect x="595" y="492" width="1" height="23" fill="#0000ff"/>
<rect x="599" y="491" width="1" height="24" fill="#0000ff"/>
<rect x="603" y="490" width="1" height="25" fill="#0000ff"/>
<rect x="607" y="491" width="1" height="24" fill="#0000ff"/>
<rect x="611" y="492" width="1" height="23" fill="#0000ff"/>
<rect x="615" y="493" width="1" height="22" fill="#0000ff"/>
<rect x="619" y="491" width="1" height="24" fill="#0000ff"/>
<rect x="623" y="490" width="1" height="25" fill="#0000ff"/>
<rect x="627" y="490" width="1" height="25" fill="#0000ff"/>
<rect x="631" y="490" width="1" height="25" fill="#0000ff"/>
<polyline points="3.50,509.27 7.50,509.31 11.50,509.36 15.50,509.34 19.50,509.25 23.50,509.12 27.50,509.12 31.50,509.19 35.50,509.46 39.50,509.66 43.50,509.87 47.50,509.84 51.50,509.75 55.50,509.61 59.50,509.49 63.50,509.29 67.50,509.06 71.50,508.69 75.50,508.29 79.50,507.89 83.50,507.53 87.50,507.22 91.50,506.97 95.50,506.71 99.50,506.27 103.50,505.88 107.50,505.54 111.50,505.63 115.50,506.19 119.50,507.19 123.50,508.80 127.50,511.05 131.50,513.94 135.50,517.17 139.50,520.41 143.50,523.59 147.50,526.44 151.50,528.86 155.50,530.88 159.50,532.27 163.50,533.00 167.50,533.03 171.50,532.84 175.50,532.87 179.50,532.92 183.50,533.06 187.50,533.14 191.50,533.31 195.50,533.42 199.50,533.54 203.50,533.69 207.50,533.77 211.50,533.46 215.50,532.86 219.50,531.89 223.50,530.89 227.50,529.65 231.50,528.40 235.50,527.11 239.50,526.23 243.50,525.36 247.50,524.64 251.50,524.06 255.50,523.62 259.50,523.01 263.50,522.63 267.50,522.41 271.50,521.99 275.50,521.09 279.50,520.14 283.50,518.92 287.50,517.80 291.50,516.59 295.50,515.76 299.50,515.30 303.50,515.09 307.50,515.20 311.50,515.62 315.50,516.24 319.50,517.14 323.50,518.17 327.50,519.43 331.50,520.57 335.50,521.37 339.50,521.90 343.50,522.30 347.50,522.60 351.50,522.81 355.50,522.92 359.50,522.77 363.50,522.61 367.50,522.38 371.50,522.18 375.50,521.91 379.50,521.61 383.50,521.41 387.50,521.06 391.50,520.56 395.50,519.98 399.50,519.11 403.50,518.09 407.50,516.81 411.50,515.39 415.50,513.99 419.50,512.39 423.50,510.87 427.50,509.55 431.50,508.52 435.50,507.47 439.50,506.50 443.50,505.75 447.50,505.15 451.50,504.57 455.50,504.01 459.50,503.38 463.50,502.60 467.50,501.79 471.50,501.30 475.50,501.05 479.50,501.02 483.50,501.29 487.50,501.85 491.50,502.68 495.50,503.85 499.50,505.31 503.50,506.81 507.50,508.35 511.50,510.10 515.50,511.83 519.50,513.42 523.50,514.64 527.50,515.56 531.50,516.23 535.50,516.62 539.50,516.84 543.50,516.87 547.50,516.65 551.50,516.18 555.50,515.59 559.50,515.00 563.50,514.51 567.50,513.93 571.50,513.28 575.50,512.48 579.50,511.58 583.50,510.23 587.50,508.48 591.50,506.28 595.50,504.03 599.50,501.72 603.50,499.45 607.50,497.37 611.50,495.66 615.50,494.16 619.50,492.94 623.50,492.09 627.50,491.73 631.50,491.54" fill="none" stroke="#ff0000" stroke-width="1" stroke-dasharray="3 3"/>
<rect x="660" y="5" width="2" height="1" fill="#000"/>
<rect x="660" y="38" width="2" height="1" fill="#000"/>
<rect x="660" y="71" width="2" height="1" fill="#000"/>
<rect x="660" y="104" width="2" height="1" fill="#000"/>
<rect x="660" y="137" width="2" height="1" fill="#000"/>
<rect x="660" y="170" width="2" height="1" fill="#000"/>
<rect x="660" y="203" width="2" height="1" fill="#000"/>
<rect x="660" y="236" width="2" height="1" fill="#000"/>
<rect x="660" y="269" width="2" height="1" fill="#000"/>
<rect x="660" y="302" width="2" height="1" fill="#000"/>
<rect x="660" y="335" width="2" height="1" fill="#000"/>
<rect x="660" y="368" width="2" height="1" fill="#000"/>
<rect x="660" y="375" width="1" height="1" fill="#000"/>
<rect x="660" y="426" width="1" height="1" fill="#000"/>
<rect x="660" y="431" width="1" height="1" fill="#000"/>
<rect x="660" y="482" width="1" height="1" fill="#000"/>
<rect x="660" y="486" width="1" height="1" fill="#000"/>
<rect x="660" y="514" width="2" height="1" fill="#000"/>
<rect x="660" y="538" width="1" height="1" fill="#000"/>
<rect x="3" y="540" width="1" height="3" fill="#000"/>
<rect x="67" y="540" width="1" height="3" fill="#000"/>
<rect x="131" y="540" width="1" height="3" fill="#000"/>
<rect x="195" y="540" width="1" height="3" fill="#000"/>
<rect x="259" y="540" width="1" height="3" fill="#000"/>
<rect x="323" y="540" width="1" height="3" fill="#000"/>
<rect x="387" y="540" width="1" height="3" fill="#000"/>
<rect x="451" y="540" width="1" height="3" fill="#000"/>
<rect x="515" y="540" width="1" height="3" fill="#000"/>
<rect x="579" y="540" width="1" height="3" fill="#000"/>
<polygon points="6,9 13,9 9.5,12.5" fill="#000" shape-rendering="auto"/>
<text x="17.07" y="14" font-size="9" fill="#000" textLength="55.79" lengthAdjust="spacingAndGlyphs" stroke="#000" stroke-width="0.25">XAGUSD,H1</text>
<text x="77.68" y="14" font-size="9" fill="#000" textLength="121.47" lengthAdjust="spacingAndGlyphs" stroke="#000" stroke-width="0.25">15.389 15.406 15.377 15.402</text>
<text x="6.58" y="386" font-size="9" fill="#000" textLength="68.69" lengthAdjust="spacingAndGlyphs" stroke="#000" stroke-width="0.25">RSI(14) 65.8579</text>
<text x="80.21" y="386" font-size="9" fill="#000" textLength="73.15" lengthAdjust="spacingAndGlyphs" stroke="#000" stroke-width="0.25">-&gt;MA(9) 65.0213</text>
<text x="6.90" y="442" font-size="9" fill="#000" textLength="122.34" lengthAdjust="spacingAndGlyphs" stroke="#000" stroke-width="0.25">Stoch(5,3,3) 77.4194 75.4183</text>
<text x="6.66" y="498" font-size="9" fill="#000" textLength="128.63" lengthAdjust="spacingAndGlyphs" stroke="#000" stroke-width="0.25">MACD(12,26,9) 0.0991 0.0952</text>
<text x="664.32" y="9" font-size="9" fill="#000" textLength="29.12" lengthAdjust="spacingAndGlyphs" stroke="#000" stroke-width="0.25">16.330</text>
<text x="664.32" y="42" font-size="9" fill="#000" textLength="29.12" lengthAdjust="spacingAndGlyphs" stroke="#000" stroke-width="0.25">16.100</text>
<text x="664.32" y="75" font-size="9" fill="#000" textLength="29.12" lengthAdjust="spacingAndGlyphs" stroke="#000" stroke-width="0.25">15.870</text>
<text x="664.32" y="108" font-size="9" fill="#000" textLength="29.12" lengthAdjust="spacingAndGlyphs" stroke="#000" stroke-width="0.25">15.640</text>
<text x="664.32" y="141" font-size="9" fill="#000" textLength="29.12" lengthAdjust="spacingAndGlyphs" stroke="#000" stroke-width="0.25">15.410</text>
<text x="664.32" y="174" font-size="9" fill="#000" textLength="29.12" lengthAdjust="spacingAndGlyphs" stroke="#000" stroke-width="0.25">15.180</text>
<text x="664.29" y="207" font-size="9" fill="#000" textLength="29.38" lengthAdjust="spacingAndGlyphs" stroke="#000" stroke-width="0.25">14.955</text>
<text x="664.29" y="240" font-size="9" fill="#000" textLength="29.38" lengthAdjust="spacingAndGlyphs" stroke="#000" stroke-width="0.25">14.725</text>
<text x="664.29" y="273" font-size="9" fill="#000" textLength="29.38" lengthAdjust="spacingAndGlyphs" stroke="#000" stroke-width="0.25">14.495</text>
<text x="664.29" y="306" font-size="9" fill="#000" textLength="29.38" lengthAdjust="spacingAndGlyphs" stroke="#000" stroke-width="0.25">14.265</text>
<text x="664.29" y="339" font-size="9" fill="#000" textLength="29.38" lengthAdjust="spacingAndGlyphs" stroke="#000" stroke-width="0.25">14.035</text>
<text x="664.29" y="372" font-size="9" fill="#000" textLength="29.38" lengthAdjust="spacingAndGlyphs" stroke="#000" stroke-width="0.25">13.805</text>
<text x="662.45" y="384" font-size="9" fill="#000" textLength="15.72" lengthAdjust="spacingAndGlyphs" stroke="#000" stroke-width="0.25">100</text>
<text x="661.65" y="394" font-size="9" fill="#000" textLength="10.83" lengthAdjust="spacingAndGlyphs" stroke="#000" stroke-width="0.25">70</text>
<text x="661.59" y="404" font-size="9" fill="#000" textLength="10.83" lengthAdjust="spacingAndGlyphs" stroke="#000" stroke-width="0.25">50</text>
<text x="661.57" y="415" font-size="9" fill="#000" textLength="10.85" lengthAdjust="spacingAndGlyphs" stroke="#000" stroke-width="0.25">30</text>
<text x="662.59" y="424" font-size="9" fill="#000" textLength="5.95" lengthAdjust="spacingAndGlyphs" stroke="#000" stroke-width="0.25">0</text>
<text x="662.45" y="440" font-size="9" fill="#000" textLength="15.72" lengthAdjust="spacingAndGlyphs" stroke="#000" stroke-width="0.25">100</text>
<text x="661.56" y="445" font-size="9" fill="#000" textLength="10.90" lengthAdjust="spacingAndGlyphs" stroke="#000" stroke-width="0.25">80</text>
<text x="661.59" y="460" font-size="9" fill="#000" textLength="10.83" lengthAdjust="spacingAndGlyphs" stroke="#000" stroke-width="0.25">50</text>
<text x="661.70" y="475" font-size="9" fill="#000" textLength="10.76" lengthAdjust="spacingAndGlyphs" stroke="#000" stroke-width="0.25">20</text>
<text x="662.59" y="480" font-size="9" fill="#000" textLength="5.95" lengthAdjust="spacingAndGlyphs" stroke="#000" stroke-width="0.25">0</text>
<text x="662.55" y="496" font-size="9" fill="#000" textLength="28.76" lengthAdjust="spacingAndGlyphs" stroke="#000" stroke-width="0.25">0.1085</text>
<text x="661.94" y="518" font-size="9" fill="#000" textLength="19.29" lengthAdjust="spacingAndGlyphs" stroke="#000" stroke-width="0.25">0.00</text>
<text x="662.58" y="518" font-size="9" fill="#000" textLength="5.59" lengthAdjust="spacingAndGlyphs" stroke="#000" stroke-width="0.25">0</text>
<text x="662.20" y="536" font-size="9" fill="#000" textLength="32.48" lengthAdjust="spacingAndGlyphs" stroke="#000" stroke-width="0.25">-0.0965</text>
<text x="1.27" y="552" font-size="9" fill="#000" textLength="51.61" lengthAdjust="spacingAndGlyphs" stroke="#000" stroke-width="0.25">29 Apr 2020</text>
<text x="66.02" y="552" font-size="9" fill="#000" textLength="54.23" lengthAdjust="spacingAndGlyphs" stroke="#000" stroke-width="0.25">30 Apr 04:00</text>
<text x="129.59" y="552" font-size="9" fill="#000" textLength="54.94" lengthAdjust="spacingAndGlyphs" stroke="#000" stroke-width="0.25">30 Apr 20:00</text>
<text x="193.35" y="552" font-size="9" fill="#000" textLength="53.82" lengthAdjust="spacingAndGlyphs" stroke="#000" stroke-width="0.25">1 May 13:00</text>
<text x="257.73" y="552" font-size="9" fill="#000" textLength="54.14" lengthAdjust="spacingAndGlyphs" stroke="#000" stroke-width="0.25">4 May 06:00</text>
<text x="321.73" y="552" font-size="9" fill="#000" textLength="54.14" lengthAdjust="spacingAndGlyphs" stroke="#000" stroke-width="0.25">4 May 22:00</text>
<text x="385.63" y="552" font-size="9" fill="#000" textLength="54.23" lengthAdjust="spacingAndGlyphs" stroke="#000" stroke-width="0.25">5 May 15:00</text>
<text x="449.77" y="552" font-size="9" fill="#000" textLength="54.11" lengthAdjust="spacingAndGlyphs" stroke="#000" stroke-width="0.25">6 May 08:00</text>
<text x="513.43" y="552" font-size="9" fill="#000" textLength="54.40" lengthAdjust="spacingAndGlyphs" stroke="#000" stroke-width="0.25">7 May 01:00</text>
<text x="577.43" y="552" font-size="9" fill="#000" textLength="54.40" lengthAdjust="spacingAndGlyphs" stroke="#000" stroke-width="0.25">7 May 17:00</text>
<rect x="661" y="88" width="36" height="11" fill="#ff0000"/>
<rect x="661" y="105" width="36" height="11" fill="#ff0000"/>
<rect x="661" y="146" width="36" height="11" fill="#008000"/>
<rect x="661" y="168" width="36" height="11" fill="#008000"/>
<rect x="661" y="194" width="36" height="11" fill="#008000"/>
<rect x="661" y="133" width="36" height="11" fill="#000"/>
<text x="664.39" y="97" font-size="9" fill="#fff" textLength="29.50" lengthAdjust="spacingAndGlyphs" stroke="#fff" stroke-width="0">15.711</text>
<text x="664.42" y="114" font-size="9" fill="#fff" textLength="29.15" lengthAdjust="spacingAndGlyphs" stroke="#fff" stroke-width="0">15.593</text>
<text x="664.39" y="155" font-size="9" fill="#fff" textLength="29.50" lengthAdjust="spacingAndGlyphs" stroke="#fff" stroke-width="0">15.311</text>
<text x="664.42" y="177" font-size="9" fill="#fff" textLength="29.15" lengthAdjust="spacingAndGlyphs" stroke="#fff" stroke-width="0">15.153</text>
<text x="664.42" y="203" font-size="9" fill="#fff" textLength="29.15" lengthAdjust="spacingAndGlyphs" stroke="#fff" stroke-width="0">14.973</text>
<text x="664.27" y="142" font-size="9" fill="#fff" textLength="29.77" lengthAdjust="spacingAndGlyphs" stroke="#fff" stroke-width="0">15.402</text>
</svg></body></html>
